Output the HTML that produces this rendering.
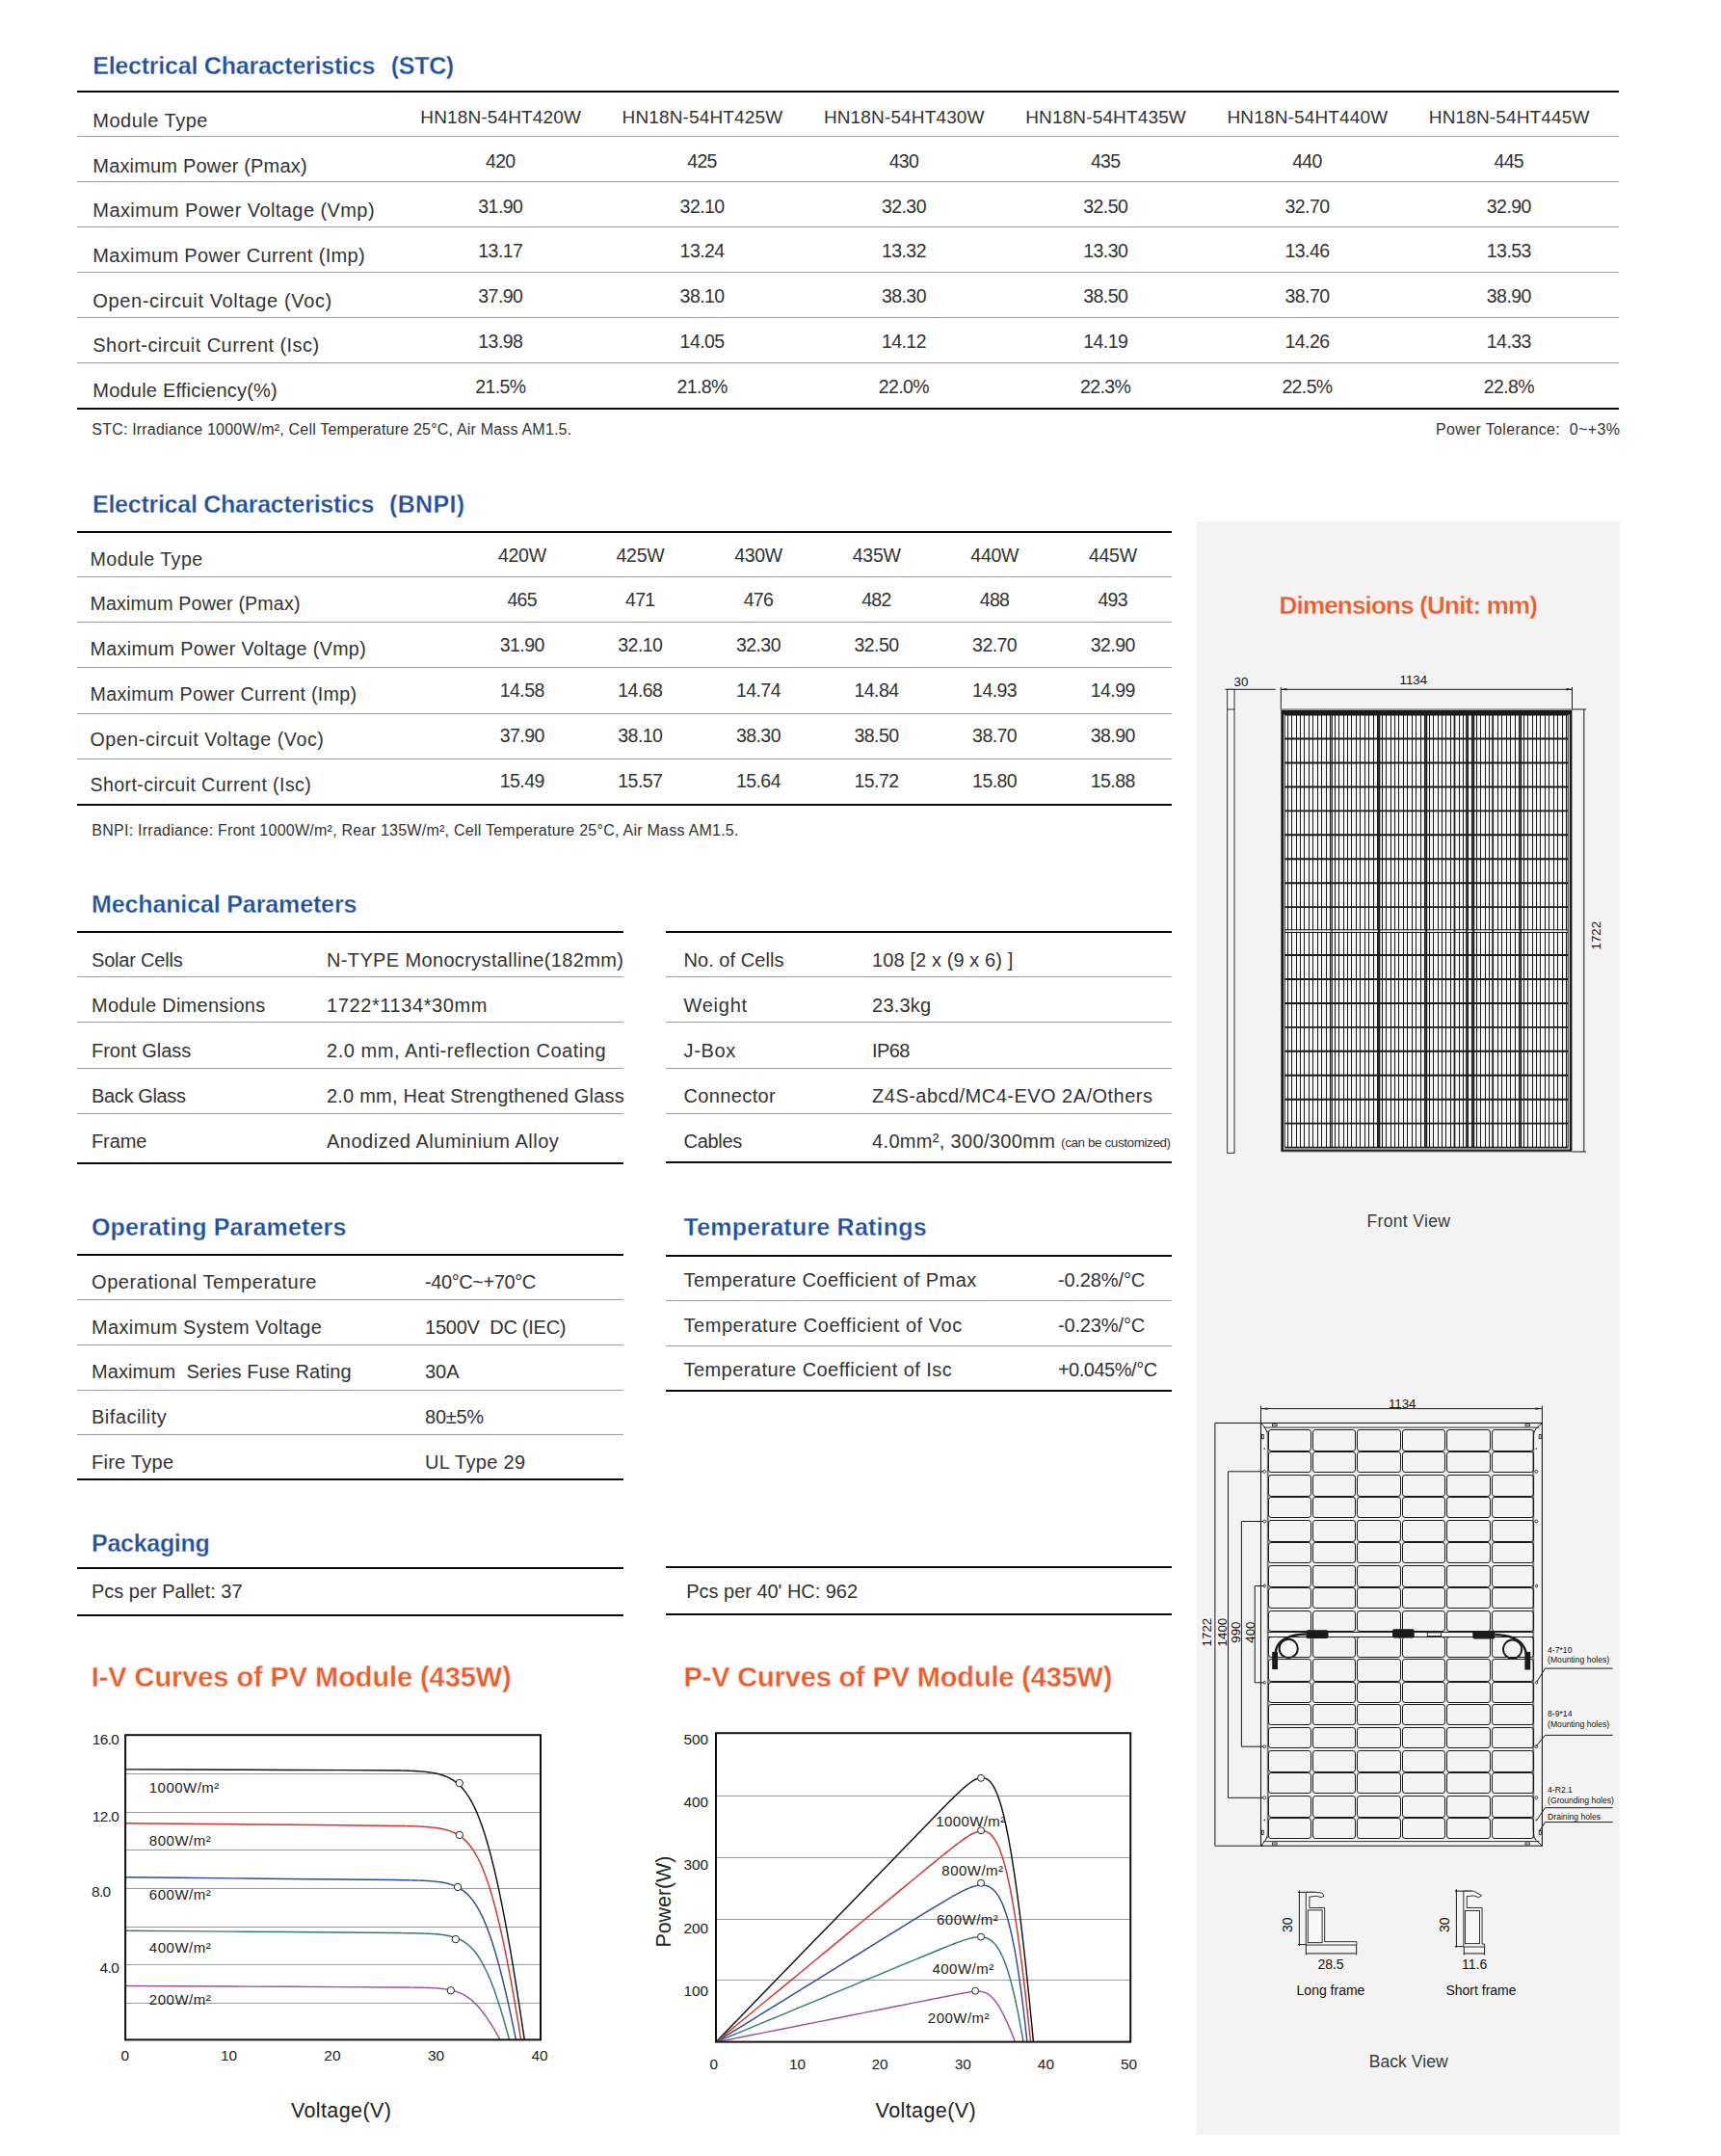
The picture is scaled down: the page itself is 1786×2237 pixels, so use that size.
<!DOCTYPE html>
<html><head><meta charset="utf-8"><title>Datasheet</title>
<style>
html,body{margin:0;padding:0;background:#fff;}
body{width:1786px;height:2237px;position:relative;overflow:hidden;font-family:"Liberation Sans",sans-serif;color:#333;}
.t{position:absolute;white-space:pre;line-height:1;}
.r{position:absolute;}
#panel{position:absolute;left:1242px;top:541px;width:439px;height:1674px;background:#f3f3f3;}
svg{position:absolute;left:0;top:0;}
svg text{font-family:"Liberation Sans",sans-serif;}
</style></head><body>
<div id="panel"></div>
<div class="t" style="left:96.20px;top:56.24px;font-size:25.00px;letter-spacing:-0.223px;font-weight:bold;-webkit-text-stroke:0.27px #fff;color:#1f50a2;">Electrical Characteristics</div>
<div class="t" style="left:405.80px;top:56.24px;font-size:25.00px;letter-spacing:-0.314px;font-weight:bold;-webkit-text-stroke:0.27px #fff;color:#1f50a2;">(STC)</div>
<div class="r" style="left:80.00px;top:94.00px;width:1599.50px;height:2.00px;background:#0a0a0a"></div>
<div class="r" style="left:80.00px;top:141.00px;width:1599.50px;height:1.00px;background:#9c9c9c"></div>
<div class="r" style="left:80.00px;top:188.00px;width:1599.50px;height:1.00px;background:#9c9c9c"></div>
<div class="r" style="left:80.00px;top:235.00px;width:1599.50px;height:1.00px;background:#9c9c9c"></div>
<div class="r" style="left:80.00px;top:282.00px;width:1599.50px;height:1.00px;background:#9c9c9c"></div>
<div class="r" style="left:80.00px;top:329.00px;width:1599.50px;height:1.00px;background:#9c9c9c"></div>
<div class="r" style="left:80.00px;top:376.00px;width:1599.50px;height:1.00px;background:#9c9c9c"></div>
<div class="r" style="left:80.00px;top:423.00px;width:1599.50px;height:2.00px;background:#0a0a0a"></div>
<div class="t" style="left:96.30px;top:115.07px;font-size:20.00px;letter-spacing:0.505px;">Module Type</div>
<div class="t" style="left:436.30px;top:111.62px;font-size:19.00px;letter-spacing:0.144px;">HN18N-54HT420W</div>
<div class="t" style="left:645.60px;top:111.62px;font-size:19.00px;letter-spacing:0.144px;">HN18N-54HT425W</div>
<div class="t" style="left:854.90px;top:111.62px;font-size:19.00px;letter-spacing:0.144px;">HN18N-54HT430W</div>
<div class="t" style="left:1064.20px;top:111.62px;font-size:19.00px;letter-spacing:0.144px;">HN18N-54HT435W</div>
<div class="t" style="left:1273.50px;top:111.62px;font-size:19.00px;letter-spacing:0.144px;">HN18N-54HT440W</div>
<div class="t" style="left:1482.80px;top:111.62px;font-size:19.00px;letter-spacing:0.144px;">HN18N-54HT445W</div>
<div class="t" style="left:96.30px;top:161.70px;font-size:20.00px;letter-spacing:0.178px;">Maximum Power (Pmax)</div>
<div class="t" style="left:504.06px;top:157.91px;font-size:19.50px;letter-spacing:-0.732px;">420</div>
<div class="t" style="left:713.36px;top:157.91px;font-size:19.50px;letter-spacing:-0.732px;">425</div>
<div class="t" style="left:922.66px;top:157.91px;font-size:19.50px;letter-spacing:-0.732px;">430</div>
<div class="t" style="left:1131.96px;top:157.91px;font-size:19.50px;letter-spacing:-0.732px;">435</div>
<div class="t" style="left:1341.26px;top:157.91px;font-size:19.50px;letter-spacing:-0.732px;">440</div>
<div class="t" style="left:1550.56px;top:157.91px;font-size:19.50px;letter-spacing:-0.732px;">445</div>
<div class="t" style="left:96.30px;top:208.33px;font-size:20.00px;letter-spacing:0.426px;">Maximum Power Voltage (Vmp)</div>
<div class="t" style="left:496.30px;top:204.63px;font-size:19.50px;letter-spacing:-0.549px;">31.90</div>
<div class="t" style="left:705.60px;top:204.63px;font-size:19.50px;letter-spacing:-0.549px;">32.10</div>
<div class="t" style="left:914.90px;top:204.63px;font-size:19.50px;letter-spacing:-0.549px;">32.30</div>
<div class="t" style="left:1124.20px;top:204.63px;font-size:19.50px;letter-spacing:-0.549px;">32.50</div>
<div class="t" style="left:1333.50px;top:204.63px;font-size:19.50px;letter-spacing:-0.549px;">32.70</div>
<div class="t" style="left:1542.80px;top:204.63px;font-size:19.50px;letter-spacing:-0.549px;">32.90</div>
<div class="t" style="left:96.30px;top:254.96px;font-size:20.00px;letter-spacing:0.347px;">Maximum Power Current (Imp)</div>
<div class="t" style="left:496.30px;top:251.35px;font-size:19.50px;letter-spacing:-0.549px;">13.17</div>
<div class="t" style="left:705.60px;top:251.35px;font-size:19.50px;letter-spacing:-0.549px;">13.24</div>
<div class="t" style="left:914.90px;top:251.35px;font-size:19.50px;letter-spacing:-0.549px;">13.32</div>
<div class="t" style="left:1124.20px;top:251.35px;font-size:19.50px;letter-spacing:-0.549px;">13.30</div>
<div class="t" style="left:1333.50px;top:251.35px;font-size:19.50px;letter-spacing:-0.549px;">13.46</div>
<div class="t" style="left:1542.80px;top:251.35px;font-size:19.50px;letter-spacing:-0.549px;">13.53</div>
<div class="t" style="left:96.30px;top:301.59px;font-size:20.00px;letter-spacing:0.622px;">Open-circuit Voltage (Voc)</div>
<div class="t" style="left:496.30px;top:298.07px;font-size:19.50px;letter-spacing:-0.549px;">37.90</div>
<div class="t" style="left:705.60px;top:298.07px;font-size:19.50px;letter-spacing:-0.549px;">38.10</div>
<div class="t" style="left:914.90px;top:298.07px;font-size:19.50px;letter-spacing:-0.549px;">38.30</div>
<div class="t" style="left:1124.20px;top:298.07px;font-size:19.50px;letter-spacing:-0.549px;">38.50</div>
<div class="t" style="left:1333.50px;top:298.07px;font-size:19.50px;letter-spacing:-0.549px;">38.70</div>
<div class="t" style="left:1542.80px;top:298.07px;font-size:19.50px;letter-spacing:-0.549px;">38.90</div>
<div class="t" style="left:96.30px;top:348.22px;font-size:20.00px;letter-spacing:0.439px;">Short-circuit Current (Isc)</div>
<div class="t" style="left:496.30px;top:344.79px;font-size:19.50px;letter-spacing:-0.549px;">13.98</div>
<div class="t" style="left:705.60px;top:344.79px;font-size:19.50px;letter-spacing:-0.549px;">14.05</div>
<div class="t" style="left:914.90px;top:344.79px;font-size:19.50px;letter-spacing:-0.549px;">14.12</div>
<div class="t" style="left:1124.20px;top:344.79px;font-size:19.50px;letter-spacing:-0.549px;">14.19</div>
<div class="t" style="left:1333.50px;top:344.79px;font-size:19.50px;letter-spacing:-0.549px;">14.26</div>
<div class="t" style="left:1542.80px;top:344.79px;font-size:19.50px;letter-spacing:-0.549px;">14.33</div>
<div class="t" style="left:96.30px;top:394.85px;font-size:20.00px;letter-spacing:0.206px;">Module Efficiency(%)</div>
<div class="t" style="left:493.20px;top:391.51px;font-size:19.50px;letter-spacing:-0.622px;">21.5%</div>
<div class="t" style="left:702.50px;top:391.51px;font-size:19.50px;letter-spacing:-0.622px;">21.8%</div>
<div class="t" style="left:911.80px;top:391.51px;font-size:19.50px;letter-spacing:-0.622px;">22.0%</div>
<div class="t" style="left:1121.10px;top:391.51px;font-size:19.50px;letter-spacing:-0.622px;">22.3%</div>
<div class="t" style="left:1330.40px;top:391.51px;font-size:19.50px;letter-spacing:-0.622px;">22.5%</div>
<div class="t" style="left:1539.70px;top:391.51px;font-size:19.50px;letter-spacing:-0.622px;">22.8%</div>
<div class="t" style="left:95.30px;top:438.46px;font-size:16.00px;letter-spacing:0.198px;">STC: Irradiance 1000W/m², Cell Temperature 25°C, Air Mass AM1.5.</div>
<div class="t" style="left:1490.00px;top:438.46px;font-size:16.00px;letter-spacing:0.362px;">Power Tolerance:  0~+3%</div>
<div class="t" style="left:96.00px;top:510.84px;font-size:25.00px;letter-spacing:-0.259px;font-weight:bold;-webkit-text-stroke:0.27px #fff;color:#1f50a2;">Electrical Characteristics</div>
<div class="t" style="left:404.00px;top:510.84px;font-size:25.00px;letter-spacing:0.323px;font-weight:bold;-webkit-text-stroke:0.27px #fff;color:#1f50a2;">(BNPI)</div>
<div class="r" style="left:80.00px;top:551.00px;width:1135.50px;height:2.00px;background:#0a0a0a"></div>
<div class="r" style="left:80.00px;top:598.00px;width:1135.50px;height:1.00px;background:#9c9c9c"></div>
<div class="r" style="left:80.00px;top:645.00px;width:1135.50px;height:1.00px;background:#9c9c9c"></div>
<div class="r" style="left:80.00px;top:692.00px;width:1135.50px;height:1.00px;background:#9c9c9c"></div>
<div class="r" style="left:80.00px;top:740.00px;width:1135.50px;height:1.00px;background:#9c9c9c"></div>
<div class="r" style="left:80.00px;top:787.00px;width:1135.50px;height:1.00px;background:#9c9c9c"></div>
<div class="r" style="left:80.00px;top:834.00px;width:1135.50px;height:2.00px;background:#0a0a0a"></div>
<div class="t" style="left:93.50px;top:570.51px;font-size:19.60px;letter-spacing:0.483px;">Module Type</div>
<div class="t" style="left:516.95px;top:566.99px;font-size:19.50px;letter-spacing:-0.278px;">420W</div>
<div class="t" style="left:639.55px;top:566.99px;font-size:19.50px;letter-spacing:-0.278px;">425W</div>
<div class="t" style="left:762.15px;top:566.99px;font-size:19.50px;letter-spacing:-0.278px;">430W</div>
<div class="t" style="left:884.75px;top:566.99px;font-size:19.50px;letter-spacing:-0.278px;">435W</div>
<div class="t" style="left:1007.35px;top:566.99px;font-size:19.50px;letter-spacing:-0.278px;">440W</div>
<div class="t" style="left:1129.95px;top:566.99px;font-size:19.50px;letter-spacing:-0.278px;">445W</div>
<div class="t" style="left:93.50px;top:617.41px;font-size:19.60px;letter-spacing:0.182px;">Maximum Power (Pmax)</div>
<div class="t" style="left:526.46px;top:612.99px;font-size:19.50px;letter-spacing:-0.732px;">465</div>
<div class="t" style="left:649.06px;top:612.99px;font-size:19.50px;letter-spacing:-0.732px;">471</div>
<div class="t" style="left:771.66px;top:612.99px;font-size:19.50px;letter-spacing:-0.732px;">476</div>
<div class="t" style="left:894.26px;top:612.99px;font-size:19.50px;letter-spacing:-0.732px;">482</div>
<div class="t" style="left:1016.86px;top:612.99px;font-size:19.50px;letter-spacing:-0.732px;">488</div>
<div class="t" style="left:1139.46px;top:612.99px;font-size:19.50px;letter-spacing:-0.732px;">493</div>
<div class="t" style="left:93.50px;top:664.31px;font-size:19.60px;letter-spacing:0.412px;">Maximum Power Voltage (Vmp)</div>
<div class="t" style="left:518.70px;top:659.89px;font-size:19.50px;letter-spacing:-0.549px;">31.90</div>
<div class="t" style="left:641.30px;top:659.89px;font-size:19.50px;letter-spacing:-0.549px;">32.10</div>
<div class="t" style="left:763.90px;top:659.89px;font-size:19.50px;letter-spacing:-0.549px;">32.30</div>
<div class="t" style="left:886.50px;top:659.89px;font-size:19.50px;letter-spacing:-0.549px;">32.50</div>
<div class="t" style="left:1009.10px;top:659.89px;font-size:19.50px;letter-spacing:-0.549px;">32.70</div>
<div class="t" style="left:1131.70px;top:659.89px;font-size:19.50px;letter-spacing:-0.549px;">32.90</div>
<div class="t" style="left:93.50px;top:711.21px;font-size:19.60px;letter-spacing:0.334px;">Maximum Power Current (Imp)</div>
<div class="t" style="left:518.70px;top:706.79px;font-size:19.50px;letter-spacing:-0.549px;">14.58</div>
<div class="t" style="left:641.30px;top:706.79px;font-size:19.50px;letter-spacing:-0.549px;">14.68</div>
<div class="t" style="left:763.90px;top:706.79px;font-size:19.50px;letter-spacing:-0.549px;">14.74</div>
<div class="t" style="left:886.50px;top:706.79px;font-size:19.50px;letter-spacing:-0.549px;">14.84</div>
<div class="t" style="left:1009.10px;top:706.79px;font-size:19.50px;letter-spacing:-0.549px;">14.93</div>
<div class="t" style="left:1131.70px;top:706.79px;font-size:19.50px;letter-spacing:-0.549px;">14.99</div>
<div class="t" style="left:93.50px;top:758.11px;font-size:19.60px;letter-spacing:0.588px;">Open-circuit Voltage (Voc)</div>
<div class="t" style="left:518.70px;top:753.69px;font-size:19.50px;letter-spacing:-0.549px;">37.90</div>
<div class="t" style="left:641.30px;top:753.69px;font-size:19.50px;letter-spacing:-0.549px;">38.10</div>
<div class="t" style="left:763.90px;top:753.69px;font-size:19.50px;letter-spacing:-0.549px;">38.30</div>
<div class="t" style="left:886.50px;top:753.69px;font-size:19.50px;letter-spacing:-0.549px;">38.50</div>
<div class="t" style="left:1009.10px;top:753.69px;font-size:19.50px;letter-spacing:-0.549px;">38.70</div>
<div class="t" style="left:1131.70px;top:753.69px;font-size:19.50px;letter-spacing:-0.549px;">38.90</div>
<div class="t" style="left:93.50px;top:805.01px;font-size:19.60px;letter-spacing:0.403px;">Short-circuit Current (Isc)</div>
<div class="t" style="left:518.70px;top:800.59px;font-size:19.50px;letter-spacing:-0.549px;">15.49</div>
<div class="t" style="left:641.30px;top:800.59px;font-size:19.50px;letter-spacing:-0.549px;">15.57</div>
<div class="t" style="left:763.90px;top:800.59px;font-size:19.50px;letter-spacing:-0.549px;">15.64</div>
<div class="t" style="left:886.50px;top:800.59px;font-size:19.50px;letter-spacing:-0.549px;">15.72</div>
<div class="t" style="left:1009.10px;top:800.59px;font-size:19.50px;letter-spacing:-0.549px;">15.80</div>
<div class="t" style="left:1131.70px;top:800.59px;font-size:19.50px;letter-spacing:-0.549px;">15.88</div>
<div class="t" style="left:95.30px;top:854.46px;font-size:16.00px;letter-spacing:0.250px;">BNPI: Irradiance: Front 1000W/m², Rear 135W/m², Cell Temperature 25°C, Air Mass AM1.5.</div>
<div class="t" style="left:95.00px;top:926.04px;font-size:25.00px;letter-spacing:-0.127px;font-weight:bold;-webkit-text-stroke:0.27px #fff;color:#1f50a2;">Mechanical Parameters</div>
<div class="r" style="left:80.00px;top:966.00px;width:567.00px;height:2.00px;background:#0a0a0a"></div>
<div class="r" style="left:691.00px;top:966.00px;width:524.50px;height:2.00px;background:#0a0a0a"></div>
<div class="r" style="left:80.00px;top:1013.00px;width:567.00px;height:1.00px;background:#9c9c9c"></div>
<div class="r" style="left:691.00px;top:1013.00px;width:524.50px;height:1.00px;background:#9c9c9c"></div>
<div class="r" style="left:80.00px;top:1060.00px;width:567.00px;height:1.00px;background:#9c9c9c"></div>
<div class="r" style="left:691.00px;top:1060.00px;width:524.50px;height:1.00px;background:#9c9c9c"></div>
<div class="r" style="left:80.00px;top:1108.00px;width:567.00px;height:1.00px;background:#9c9c9c"></div>
<div class="r" style="left:691.00px;top:1108.00px;width:524.50px;height:1.00px;background:#9c9c9c"></div>
<div class="r" style="left:80.00px;top:1155.00px;width:567.00px;height:1.00px;background:#9c9c9c"></div>
<div class="r" style="left:691.00px;top:1155.00px;width:524.50px;height:1.00px;background:#9c9c9c"></div>
<div class="r" style="left:80.00px;top:1205.50px;width:567.00px;height:2.00px;background:#0a0a0a"></div>
<div class="r" style="left:691.00px;top:1205.00px;width:524.50px;height:2.00px;background:#0a0a0a"></div>
<div class="t" style="left:95.00px;top:985.97px;font-size:20.00px;letter-spacing:-0.190px;">Solar Cells</div>
<div class="t" style="left:339.00px;top:985.97px;font-size:20.00px;letter-spacing:0.358px;">N-TYPE Monocrystalline(182mm)</div>
<div class="t" style="left:95.00px;top:1033.07px;font-size:20.00px;letter-spacing:0.285px;">Module Dimensions</div>
<div class="t" style="left:339.00px;top:1033.07px;font-size:20.00px;letter-spacing:0.597px;">1722*1134*30mm</div>
<div class="t" style="left:95.00px;top:1080.17px;font-size:20.00px;letter-spacing:-0.006px;">Front Glass</div>
<div class="t" style="left:339.00px;top:1080.17px;font-size:20.00px;letter-spacing:0.538px;">2.0 mm, Anti-reflection Coating</div>
<div class="t" style="left:95.00px;top:1127.27px;font-size:20.00px;letter-spacing:-0.349px;">Back Glass</div>
<div class="t" style="left:339.00px;top:1127.27px;font-size:20.00px;letter-spacing:0.211px;">2.0 mm, Heat Strengthened Glass</div>
<div class="t" style="left:95.00px;top:1174.37px;font-size:20.00px;letter-spacing:-0.121px;">Frame</div>
<div class="t" style="left:339.00px;top:1174.37px;font-size:20.00px;letter-spacing:0.512px;">Anodized Aluminium Alloy</div>
<div class="t" style="left:709.50px;top:986.07px;font-size:20.00px;letter-spacing:0.048px;">No. of Cells</div>
<div class="t" style="left:905.10px;top:986.07px;font-size:20.00px;letter-spacing:0.093px;">108 [2 x (9 x 6) ]</div>
<div class="t" style="left:709.50px;top:1033.17px;font-size:20.00px;letter-spacing:0.743px;">Weight</div>
<div class="t" style="left:905.10px;top:1033.17px;font-size:20.00px;letter-spacing:0.190px;">23.3kg</div>
<div class="t" style="left:709.50px;top:1080.27px;font-size:20.00px;letter-spacing:0.644px;">J-Box</div>
<div class="t" style="left:905.10px;top:1080.27px;font-size:20.00px;letter-spacing:-0.581px;">IP68</div>
<div class="t" style="left:709.50px;top:1127.37px;font-size:20.00px;letter-spacing:0.365px;">Connector</div>
<div class="t" style="left:905.10px;top:1127.37px;font-size:20.00px;letter-spacing:0.472px;">Z4S-abcd/MC4-EVO 2A/Others</div>
<div class="t" style="left:709.50px;top:1174.47px;font-size:20.00px;letter-spacing:-0.312px;">Cables</div>
<div class="t" style="left:905.10px;top:1174.47px;font-size:20.00px;letter-spacing:0.324px;">4.0mm², 300/300mm</div>
<div class="t" style="left:1101.10px;top:1179.37px;font-size:13.50px;letter-spacing:-0.420px;">(can be customized)</div>
<div class="t" style="left:95.00px;top:1261.04px;font-size:25.00px;letter-spacing:0.167px;font-weight:bold;-webkit-text-stroke:0.27px #fff;color:#1f50a2;">Operating Parameters</div>
<div class="t" style="left:709.50px;top:1261.34px;font-size:25.00px;letter-spacing:0.216px;font-weight:bold;-webkit-text-stroke:0.27px #fff;color:#1f50a2;">Temperature Ratings</div>
<div class="r" style="left:80.00px;top:1301.00px;width:567.00px;height:2.00px;background:#0a0a0a"></div>
<div class="r" style="left:691.00px;top:1302.00px;width:524.50px;height:2.00px;background:#0a0a0a"></div>
<div class="r" style="left:80.00px;top:1348.00px;width:567.00px;height:1.00px;background:#9c9c9c"></div>
<div class="r" style="left:80.00px;top:1395.00px;width:567.00px;height:1.00px;background:#9c9c9c"></div>
<div class="r" style="left:80.00px;top:1442.00px;width:567.00px;height:1.00px;background:#9c9c9c"></div>
<div class="r" style="left:80.00px;top:1488.00px;width:567.00px;height:1.00px;background:#9c9c9c"></div>
<div class="r" style="left:80.00px;top:1534.00px;width:567.00px;height:2.00px;background:#0a0a0a"></div>
<div class="r" style="left:691.00px;top:1349.00px;width:524.50px;height:1.00px;background:#9c9c9c"></div>
<div class="r" style="left:691.00px;top:1396.00px;width:524.50px;height:1.00px;background:#9c9c9c"></div>
<div class="r" style="left:691.00px;top:1442.00px;width:524.50px;height:2.00px;background:#0a0a0a"></div>
<div class="t" style="left:95.00px;top:1320.07px;font-size:20.00px;letter-spacing:0.574px;">Operational Temperature</div>
<div class="t" style="left:441.10px;top:1320.07px;font-size:20.00px;letter-spacing:-0.430px;">-40°C~+70°C</div>
<div class="t" style="left:95.00px;top:1366.77px;font-size:20.00px;letter-spacing:0.362px;">Maximum System Voltage</div>
<div class="t" style="left:441.10px;top:1366.77px;font-size:20.00px;letter-spacing:-0.261px;">1500V  DC (IEC)</div>
<div class="t" style="left:95.00px;top:1413.47px;font-size:20.00px;letter-spacing:0.070px;">Maximum  Series Fuse Rating</div>
<div class="t" style="left:441.10px;top:1413.47px;font-size:20.00px;letter-spacing:-0.094px;">30A</div>
<div class="t" style="left:95.00px;top:1460.17px;font-size:20.00px;letter-spacing:0.483px;">Bifacility</div>
<div class="t" style="left:441.10px;top:1460.17px;font-size:20.00px;letter-spacing:-0.282px;">80±5%</div>
<div class="t" style="left:95.00px;top:1506.87px;font-size:20.00px;letter-spacing:0.250px;">Fire Type</div>
<div class="t" style="left:441.10px;top:1506.87px;font-size:20.00px;letter-spacing:0.324px;">UL Type 29</div>
<div class="t" style="left:709.50px;top:1318.07px;font-size:20.00px;letter-spacing:0.427px;">Temperature Coefficient of Pmax</div>
<div class="t" style="left:1097.90px;top:1318.07px;font-size:20.00px;letter-spacing:-0.134px;">-0.28%/°C</div>
<div class="t" style="left:709.50px;top:1364.77px;font-size:20.00px;letter-spacing:0.537px;">Temperature Coefficient of Voc</div>
<div class="t" style="left:1097.90px;top:1364.77px;font-size:20.00px;letter-spacing:-0.134px;">-0.23%/°C</div>
<div class="t" style="left:709.50px;top:1411.47px;font-size:20.00px;letter-spacing:0.444px;">Temperature Coefficient of Isc</div>
<div class="t" style="left:1097.90px;top:1411.47px;font-size:20.00px;letter-spacing:-0.479px;">+0.045%/°C</div>
<div class="t" style="left:95.00px;top:1589.04px;font-size:25.00px;letter-spacing:-0.282px;font-weight:bold;-webkit-text-stroke:0.27px #fff;color:#1f50a2;">Packaging</div>
<div class="r" style="left:80.00px;top:1626.00px;width:567.00px;height:2.00px;background:#0a0a0a"></div>
<div class="r" style="left:691.00px;top:1625.00px;width:524.50px;height:2.00px;background:#0a0a0a"></div>
<div class="r" style="left:80.00px;top:1675.00px;width:567.00px;height:2.00px;background:#0a0a0a"></div>
<div class="r" style="left:691.00px;top:1674.00px;width:524.50px;height:2.00px;background:#0a0a0a"></div>
<div class="t" style="left:95.00px;top:1641.07px;font-size:20.00px;letter-spacing:-0.009px;">Pcs per Pallet: 37</div>
<div class="t" style="left:712.30px;top:1641.07px;font-size:20.00px;letter-spacing:-0.031px;">Pcs per 40' HC: 962</div>
<div class="t" style="left:94.80px;top:1726.05px;font-size:29.00px;letter-spacing:-0.083px;font-weight:bold;-webkit-text-stroke:0.32px #fff;color:#f15a29;">I-V Curves of PV Module (435W)</div>
<div class="t" style="left:709.50px;top:1726.05px;font-size:29.00px;letter-spacing:-0.158px;font-weight:bold;-webkit-text-stroke:0.32px #fff;color:#f15a29;">P-V Curves of PV Module (435W)</div>
<div class="t" style="left:1327.50px;top:615.39px;font-size:26.00px;letter-spacing:-0.803px;font-weight:bold;-webkit-text-stroke:0.29px #f3f3f3;color:#f15a29;">Dimensions (Unit: mm)</div>
<div class="t" style="left:1418.45px;top:1258.79px;font-size:17.50px;letter-spacing:0.353px;color:#3a3a3a;">Front View</div>
<div class="t" style="left:1420.70px;top:2130.99px;font-size:17.50px;letter-spacing:0.077px;color:#3a3a3a;">Back View</div>
<svg width="1786" height="2237" viewBox="0 0 1786 2237">
<line x1="130.10" y1="1840.50" x2="561.00" y2="1840.50" stroke="#9a9a9a" stroke-width="1"/>
<line x1="130.10" y1="1880.50" x2="561.00" y2="1880.50" stroke="#9a9a9a" stroke-width="1"/>
<line x1="130.10" y1="1919.50" x2="561.00" y2="1919.50" stroke="#9a9a9a" stroke-width="1"/>
<line x1="130.10" y1="1959.50" x2="561.00" y2="1959.50" stroke="#9a9a9a" stroke-width="1"/>
<line x1="130.10" y1="1999.50" x2="561.00" y2="1999.50" stroke="#9a9a9a" stroke-width="1"/>
<line x1="130.10" y1="2038.50" x2="561.00" y2="2038.50" stroke="#9a9a9a" stroke-width="1"/>
<line x1="130.10" y1="2078.50" x2="561.00" y2="2078.50" stroke="#9a9a9a" stroke-width="1"/>
<clipPath id="civ"><rect x="130.10" y="1800.20" width="430.90" height="316.20"/></clipPath>
<g clip-path="url(#civ)" fill="none" stroke-width="1.45">
<path d="M130.10 1835.87 L186.12 1836.06 L242.13 1836.24 L298.15 1836.43 L354.17 1836.62 L410.19 1836.98 L415.57 1837.08 L417.08 1837.11 L418.60 1837.15 L420.11 1837.19 L421.62 1837.23 L423.13 1837.28 L424.64 1837.33 L426.16 1837.39 L427.67 1837.45 L429.18 1837.52 L430.69 1837.59 L432.21 1837.68 L433.72 1837.77 L435.23 1837.87 L436.74 1837.98 L438.25 1838.10 L439.77 1838.24 L441.28 1838.39 L442.79 1838.55 L444.30 1838.73 L445.81 1838.93 L447.33 1839.15 L448.84 1839.39 L450.35 1839.66 L451.86 1839.95 L453.38 1840.28 L454.89 1840.64 L456.40 1841.03 L457.91 1841.47 L459.42 1841.95 L460.94 1842.47 L462.45 1843.05 L463.96 1843.69 L465.47 1844.39 L466.99 1845.16 L468.50 1846.01 L470.01 1846.93 L471.52 1847.94 L473.03 1849.05 L474.55 1850.26 L476.06 1851.58 L477.57 1853.02 L479.08 1854.59 L480.59 1856.29 L482.11 1858.13 L483.62 1860.13 L485.13 1862.29 L486.64 1864.62 L488.16 1867.14 L489.67 1869.84 L491.18 1872.73 L492.69 1875.83 L494.20 1879.15 L495.72 1882.68 L497.23 1886.43 L498.74 1890.42 L500.25 1894.64 L501.76 1899.10 L503.28 1903.80 L504.79 1908.74 L506.30 1913.93 L507.81 1919.36 L509.33 1925.04 L510.84 1930.96 L512.35 1937.13 L513.86 1943.54 L515.37 1950.18 L516.89 1957.06 L518.40 1964.16 L519.91 1971.50 L521.42 1979.05 L522.94 1986.82 L524.45 1994.80 L525.96 2002.99 L527.47 2011.38 L528.98 2019.96 L530.50 2028.74 L532.01 2037.69 L533.52 2046.83 L535.03 2056.14 L536.54 2065.61 L538.06 2075.25 L539.57 2085.04 L541.08 2094.99 L542.59 2105.08 L544.11 2115.32 L545.62 2125.69 L547.13 2136.19" stroke="#111111"/>
<path d="M130.10 1891.81 L186.12 1892.32 L242.13 1892.82 L298.15 1893.32 L354.17 1893.83 L410.19 1894.42 L415.57 1894.51 L417.04 1894.53 L418.52 1894.56 L419.99 1894.59 L421.46 1894.63 L422.94 1894.66 L424.41 1894.70 L425.88 1894.74 L427.36 1894.78 L428.83 1894.83 L430.30 1894.88 L431.78 1894.94 L433.25 1894.99 L434.72 1895.06 L436.20 1895.13 L437.67 1895.20 L439.14 1895.29 L440.62 1895.38 L442.09 1895.48 L443.56 1895.59 L445.03 1895.71 L446.51 1895.84 L447.98 1895.98 L449.45 1896.14 L450.93 1896.31 L452.40 1896.50 L453.87 1896.72 L455.35 1896.95 L456.82 1897.20 L458.29 1897.49 L459.77 1897.80 L461.24 1898.14 L462.71 1898.52 L464.19 1898.93 L465.66 1899.39 L467.13 1899.89 L468.61 1900.45 L470.08 1901.06 L471.55 1901.73 L473.03 1902.47 L474.50 1903.28 L475.97 1904.17 L477.44 1905.15 L478.92 1906.22 L480.39 1907.39 L481.86 1908.66 L483.34 1910.06 L484.81 1911.58 L486.28 1913.23 L487.76 1915.02 L489.23 1916.97 L490.70 1919.08 L492.18 1921.35 L493.65 1923.80 L495.12 1926.44 L496.60 1929.28 L498.07 1932.31 L499.54 1935.55 L501.02 1939.01 L502.49 1942.69 L503.96 1946.60 L505.44 1950.74 L506.91 1955.11 L508.38 1959.71 L509.85 1964.56 L511.33 1969.64 L512.80 1974.97 L514.27 1980.53 L515.75 1986.33 L517.22 1992.36 L518.69 1998.62 L520.17 2005.12 L521.64 2011.84 L523.11 2018.78 L524.59 2025.94 L526.06 2033.30 L527.53 2040.88 L529.01 2048.66 L530.48 2056.63 L531.95 2064.79 L533.43 2073.14 L534.90 2081.67 L536.37 2090.37 L537.85 2099.24 L539.32 2108.27 L540.79 2117.46 L542.26 2126.80 L543.74 2136.29" stroke="#d8312c"/>
<path d="M130.10 1947.74 L186.12 1948.30 L242.13 1948.86 L298.15 1949.42 L354.17 1949.98 L410.19 1950.59 L415.57 1950.67 L416.99 1950.70 L418.41 1950.72 L419.83 1950.75 L421.25 1950.77 L422.67 1950.80 L424.09 1950.83 L425.51 1950.86 L426.93 1950.89 L428.35 1950.93 L429.77 1950.97 L431.19 1951.01 L432.61 1951.05 L434.03 1951.10 L435.45 1951.15 L436.87 1951.20 L438.29 1951.26 L439.71 1951.33 L441.13 1951.40 L442.55 1951.48 L443.97 1951.56 L445.39 1951.65 L446.81 1951.75 L448.23 1951.86 L449.65 1951.98 L451.07 1952.12 L452.49 1952.26 L453.91 1952.43 L455.33 1952.60 L456.75 1952.80 L458.17 1953.02 L459.59 1953.26 L461.01 1953.52 L462.43 1953.81 L463.85 1954.14 L465.27 1954.49 L466.69 1954.89 L468.11 1955.32 L469.53 1955.80 L470.95 1956.32 L472.37 1956.90 L473.79 1957.54 L475.21 1958.25 L476.63 1959.02 L478.05 1959.87 L479.47 1960.80 L480.89 1961.81 L482.31 1962.92 L483.73 1964.14 L485.15 1965.46 L486.57 1966.90 L487.99 1968.46 L489.41 1970.15 L490.83 1971.98 L492.25 1973.96 L493.67 1976.08 L495.09 1978.37 L496.51 1980.81 L497.93 1983.43 L499.35 1986.21 L500.77 1989.18 L502.19 1992.32 L503.61 1995.65 L505.03 1999.17 L506.45 2002.87 L507.87 2006.76 L509.29 2010.83 L510.71 2015.09 L512.13 2019.54 L513.55 2024.17 L514.97 2028.98 L516.39 2033.97 L517.81 2039.14 L519.23 2044.48 L520.65 2049.98 L522.07 2055.65 L523.49 2061.48 L524.91 2067.47 L526.33 2073.60 L527.75 2079.89 L529.17 2086.31 L530.59 2092.87 L532.01 2099.57 L533.43 2106.39 L534.85 2113.34 L536.27 2120.40 L537.69 2127.59 L539.11 2134.88" stroke="#2c4b9c"/>
<path d="M130.10 2003.18 L186.12 2003.64 L242.13 2004.11 L298.15 2004.57 L354.17 2005.03 L410.19 2005.53 L415.57 2005.59 L416.92 2005.61 L418.26 2005.62 L419.60 2005.64 L420.95 2005.66 L422.29 2005.68 L423.63 2005.70 L424.98 2005.72 L426.32 2005.74 L427.67 2005.77 L429.01 2005.79 L430.35 2005.82 L431.70 2005.85 L433.04 2005.88 L434.38 2005.91 L435.73 2005.95 L437.07 2005.99 L438.42 2006.03 L439.76 2006.08 L441.10 2006.13 L442.45 2006.18 L443.79 2006.24 L445.14 2006.30 L446.48 2006.37 L447.82 2006.45 L449.17 2006.53 L450.51 2006.62 L451.85 2006.72 L453.20 2006.83 L454.54 2006.95 L455.89 2007.08 L457.23 2007.23 L458.57 2007.39 L459.92 2007.57 L461.26 2007.77 L462.60 2007.98 L463.95 2008.22 L465.29 2008.49 L466.64 2008.78 L467.98 2009.10 L469.32 2009.45 L470.67 2009.84 L472.01 2010.27 L473.35 2010.74 L474.70 2011.25 L476.04 2011.82 L477.39 2012.44 L478.73 2013.12 L480.07 2013.87 L481.42 2014.68 L482.76 2015.57 L484.11 2016.54 L485.45 2017.59 L486.79 2018.74 L488.14 2019.98 L489.48 2021.32 L490.82 2022.76 L492.17 2024.32 L493.51 2026.00 L494.86 2027.79 L496.20 2029.71 L497.54 2031.76 L498.89 2033.93 L500.23 2036.25 L501.57 2038.70 L502.92 2041.29 L504.26 2044.02 L505.61 2046.89 L506.95 2049.90 L508.29 2053.05 L509.64 2056.34 L510.98 2059.77 L512.33 2063.34 L513.67 2067.05 L515.01 2070.89 L516.36 2074.86 L517.70 2078.96 L519.04 2083.18 L520.39 2087.53 L521.73 2092.00 L523.08 2096.58 L524.42 2101.28 L525.76 2106.09 L527.11 2111.00 L528.45 2116.02 L529.79 2121.13 L531.14 2126.35 L532.48 2131.65 L533.83 2137.05" stroke="#2b7b74"/>
<path d="M130.10 2060.43 L186.12 2060.73 L242.13 2061.04 L298.15 2061.34 L354.17 2061.64 L410.19 2061.96 L415.57 2062.00 L416.81 2062.01 L418.04 2062.02 L419.27 2062.03 L420.51 2062.04 L421.74 2062.06 L422.97 2062.07 L424.21 2062.08 L425.44 2062.09 L426.68 2062.11 L427.91 2062.12 L429.14 2062.14 L430.38 2062.16 L431.61 2062.17 L432.85 2062.19 L434.08 2062.21 L435.31 2062.24 L436.55 2062.26 L437.78 2062.29 L439.02 2062.32 L440.25 2062.35 L441.48 2062.38 L442.72 2062.42 L443.95 2062.46 L445.19 2062.51 L446.42 2062.56 L447.65 2062.61 L448.89 2062.67 L450.12 2062.74 L451.36 2062.81 L452.59 2062.89 L453.82 2062.97 L455.06 2063.07 L456.29 2063.18 L457.52 2063.29 L458.76 2063.42 L459.99 2063.56 L461.23 2063.72 L462.46 2063.89 L463.69 2064.08 L464.93 2064.29 L466.16 2064.52 L467.40 2064.77 L468.63 2065.04 L469.86 2065.35 L471.10 2065.68 L472.33 2066.04 L473.57 2066.43 L474.80 2066.86 L476.03 2067.33 L477.27 2067.84 L478.50 2068.39 L479.74 2068.98 L480.97 2069.62 L482.20 2070.31 L483.44 2071.05 L484.67 2071.84 L485.91 2072.69 L487.14 2073.59 L488.37 2074.55 L489.61 2075.57 L490.84 2076.65 L492.07 2077.79 L493.31 2078.98 L494.54 2080.24 L495.78 2081.56 L497.01 2082.94 L498.24 2084.37 L499.48 2085.87 L500.71 2087.43 L501.95 2089.04 L503.18 2090.71 L504.41 2092.43 L505.65 2094.21 L506.88 2096.04 L508.12 2097.92 L509.35 2099.85 L510.58 2101.83 L511.82 2103.86 L513.05 2105.93 L514.29 2108.04 L515.52 2110.20 L516.75 2112.40 L517.99 2114.64 L519.22 2116.92 L520.46 2119.23 L521.69 2121.58 L522.92 2123.96 L524.16 2126.38 L525.39 2128.83" stroke="#9b50a1"/>
</g>
<rect x="130.10" y="1800.20" width="430.90" height="316.20" fill="none" stroke="#111" stroke-width="2"/>
<circle cx="476.81" cy="1850.09" r="3.7" fill="#fff" stroke="#222" stroke-width="1"/>
<circle cx="476.81" cy="1903.88" r="3.7" fill="#fff" stroke="#222" stroke-width="1"/>
<circle cx="475.08" cy="1957.98" r="3.7" fill="#fff" stroke="#222" stroke-width="1"/>
<circle cx="472.87" cy="2012.08" r="3.7" fill="#fff" stroke="#222" stroke-width="1"/>
<circle cx="467.82" cy="2065.24" r="3.7" fill="#fff" stroke="#222" stroke-width="1"/>
<text x="154.80" y="1859.70" font-size="15.00" fill="#222" textLength="72.50" lengthAdjust="spacing">1000W/m²</text>
<text x="154.80" y="1915.00" font-size="15.00" fill="#222" textLength="64.00" lengthAdjust="spacing">800W/m²</text>
<text x="154.80" y="1971.00" font-size="15.00" fill="#222" textLength="64.00" lengthAdjust="spacing">600W/m²</text>
<text x="154.80" y="2025.50" font-size="15.00" fill="#222" textLength="64.00" lengthAdjust="spacing">400W/m²</text>
<text x="154.80" y="2080.00" font-size="15.00" fill="#222" textLength="64.00" lengthAdjust="spacing">200W/m²</text>
<text x="95.70" y="1810.20" font-size="15.40" fill="#222" textLength="28.20" lengthAdjust="spacing">16.0</text>
<text x="95.70" y="1889.80" font-size="15.40" fill="#222" textLength="28.20" lengthAdjust="spacing">12.0</text>
<text x="95.10" y="1968.20" font-size="15.40" fill="#222" textLength="20.00" lengthAdjust="spacing">8.0</text>
<text x="103.50" y="2046.90" font-size="15.40" fill="#222" textLength="20.40" lengthAdjust="spacing">4.0</text>
<text x="129.70" y="2138.00" font-size="15.40" fill="#222" text-anchor="middle">0</text>
<text x="237.50" y="2138.00" font-size="15.40" fill="#222" text-anchor="middle">10</text>
<text x="344.90" y="2138.00" font-size="15.40" fill="#222" text-anchor="middle">20</text>
<text x="452.60" y="2138.00" font-size="15.40" fill="#222" text-anchor="middle">30</text>
<text x="560.00" y="2138.00" font-size="15.40" fill="#222" text-anchor="middle">40</text>
<text x="353.90" y="2196.50" font-size="21.50" fill="#222" textLength="104.00" lengthAdjust="spacing" text-anchor="middle">Voltage(V)</text>
<line x1="743.00" y1="1863.50" x2="1173.20" y2="1863.50" stroke="#9a9a9a" stroke-width="1"/>
<line x1="743.00" y1="1927.50" x2="1173.20" y2="1927.50" stroke="#9a9a9a" stroke-width="1"/>
<line x1="743.00" y1="1991.50" x2="1173.20" y2="1991.50" stroke="#9a9a9a" stroke-width="1"/>
<line x1="743.00" y1="2054.50" x2="1173.20" y2="2054.50" stroke="#9a9a9a" stroke-width="1"/>
<clipPath id="cpv"><rect x="743.00" y="1798.20" width="430.20" height="320.40"/></clipPath>
<g clip-path="url(#cpv)" fill="none" stroke-width="1.45" stroke-linejoin="round">
<path d="M742.97 2118.83 L760.18 2101.09 L777.38 2083.34 L794.59 2065.60 L811.80 2047.86 L829.00 2030.11 L846.21 2012.37 L863.42 1994.63 L880.63 1976.88 L897.83 1959.14 L915.04 1941.40 L932.25 1923.66 L949.45 1905.92 L966.66 1888.21 L970.96 1883.80 L972.30 1882.43 L973.64 1881.06 L974.98 1879.69 L976.32 1878.32 L977.66 1876.96 L979.00 1875.60 L980.33 1874.24 L981.67 1872.89 L983.01 1871.54 L984.35 1870.20 L985.69 1868.86 L987.03 1867.53 L988.37 1866.20 L989.71 1864.88 L991.04 1863.58 L992.38 1862.28 L993.72 1861.00 L995.06 1859.73 L996.40 1858.48 L997.74 1857.25 L999.08 1856.05 L1000.42 1854.86 L1001.75 1853.71 L1003.09 1852.60 L1004.43 1851.52 L1005.77 1850.49 L1007.11 1849.50 L1008.45 1848.58 L1009.79 1847.73 L1011.13 1846.94 L1012.47 1846.25 L1013.80 1845.65 L1015.14 1845.16 L1016.48 1844.80 L1017.82 1844.57 L1019.16 1844.49 L1020.50 1844.59 L1021.84 1844.87 L1023.18 1845.37 L1024.51 1846.09 L1025.85 1847.06 L1027.19 1848.30 L1028.53 1849.83 L1029.87 1851.67 L1031.21 1853.85 L1032.55 1856.37 L1033.89 1859.27 L1035.22 1862.54 L1036.56 1866.22 L1037.90 1870.31 L1039.24 1874.83 L1040.58 1879.77 L1041.92 1885.15 L1043.26 1890.97 L1044.60 1897.23 L1045.94 1903.93 L1047.27 1911.07 L1048.61 1918.64 L1049.95 1926.65 L1051.29 1935.09 L1052.63 1943.94 L1053.97 1953.20 L1055.31 1962.87 L1056.65 1972.94 L1057.98 1983.39 L1059.32 1994.22 L1060.66 2005.42 L1062.00 2016.99 L1063.34 2028.91 L1064.68 2041.17 L1066.02 2053.77 L1067.36 2066.71 L1068.69 2079.97 L1070.03 2093.54 L1071.37 2107.42 L1072.71 2121.61 L1074.05 2136.09" stroke="#111111"/>
<path d="M742.97 2118.83 L760.18 2104.65 L777.38 2090.48 L794.59 2076.30 L811.80 2062.13 L829.00 2047.95 L846.21 2033.77 L863.42 2019.60 L880.63 2005.42 L897.83 1991.25 L915.04 1977.07 L932.25 1962.90 L949.45 1948.73 L966.66 1934.59 L970.96 1931.07 L972.26 1930.01 L973.56 1928.95 L974.86 1927.89 L976.16 1926.83 L977.46 1925.78 L978.76 1924.73 L980.06 1923.68 L981.36 1922.63 L982.65 1921.59 L983.95 1920.55 L985.25 1919.52 L986.55 1918.49 L987.85 1917.46 L989.15 1916.45 L990.45 1915.44 L991.75 1914.43 L993.05 1913.44 L994.35 1912.46 L995.64 1911.49 L996.94 1910.54 L998.24 1909.60 L999.54 1908.68 L1000.84 1907.78 L1002.14 1906.91 L1003.44 1906.06 L1004.74 1905.24 L1006.04 1904.45 L1007.34 1903.71 L1008.64 1903.00 L1009.93 1902.35 L1011.23 1901.75 L1012.53 1901.22 L1013.83 1900.75 L1015.13 1900.37 L1016.43 1900.07 L1017.73 1899.87 L1019.03 1899.78 L1020.33 1899.82 L1021.63 1899.98 L1022.93 1900.30 L1024.22 1900.78 L1025.52 1901.44 L1026.82 1902.30 L1028.12 1903.37 L1029.42 1904.67 L1030.72 1906.22 L1032.02 1908.04 L1033.32 1910.14 L1034.62 1912.54 L1035.92 1915.26 L1037.22 1918.32 L1038.51 1921.72 L1039.81 1925.48 L1041.11 1929.62 L1042.41 1934.14 L1043.71 1939.05 L1045.01 1944.36 L1046.31 1950.08 L1047.61 1956.20 L1048.91 1962.74 L1050.21 1969.68 L1051.51 1977.03 L1052.80 1984.79 L1054.10 1992.95 L1055.40 2001.51 L1056.70 2010.46 L1058.00 2019.81 L1059.30 2029.53 L1060.60 2039.64 L1061.90 2050.11 L1063.20 2060.95 L1064.50 2072.14 L1065.80 2083.68 L1067.09 2095.56 L1068.39 2107.78 L1069.69 2120.33 L1070.99 2133.20" stroke="#d8312c"/>
<path d="M742.97 2118.83 L760.18 2108.19 L777.38 2097.56 L794.59 2086.92 L811.80 2076.28 L829.00 2065.65 L846.21 2055.01 L863.42 2044.37 L880.63 2033.74 L897.83 2023.10 L915.04 2012.47 L932.25 2001.83 L949.45 1991.21 L966.66 1980.66 L970.96 1978.04 L972.22 1977.28 L973.47 1976.53 L974.72 1975.77 L975.98 1975.02 L977.23 1974.27 L978.49 1973.52 L979.74 1972.77 L980.99 1972.03 L982.25 1971.29 L983.50 1970.56 L984.76 1969.83 L986.01 1969.11 L987.27 1968.39 L988.52 1967.68 L989.77 1966.97 L991.03 1966.27 L992.28 1965.58 L993.54 1964.90 L994.79 1964.23 L996.04 1963.57 L997.30 1962.93 L998.55 1962.30 L999.81 1961.68 L1001.06 1961.08 L1002.31 1960.50 L1003.57 1959.94 L1004.82 1959.41 L1006.08 1958.90 L1007.33 1958.42 L1008.58 1957.97 L1009.84 1957.56 L1011.09 1957.18 L1012.35 1956.85 L1013.60 1956.56 L1014.85 1956.32 L1016.11 1956.14 L1017.36 1956.03 L1018.62 1955.98 L1019.87 1956.01 L1021.13 1956.11 L1022.38 1956.31 L1023.63 1956.61 L1024.89 1957.02 L1026.14 1957.54 L1027.40 1958.20 L1028.65 1958.99 L1029.90 1959.93 L1031.16 1961.04 L1032.41 1962.33 L1033.67 1963.81 L1034.92 1965.50 L1036.17 1967.41 L1037.43 1969.56 L1038.68 1971.97 L1039.94 1974.65 L1041.19 1977.62 L1042.44 1980.90 L1043.70 1984.50 L1044.95 1988.45 L1046.21 1992.76 L1047.46 1997.45 L1048.71 2002.53 L1049.97 2008.03 L1051.22 2013.95 L1052.48 2020.32 L1053.73 2027.13 L1054.98 2034.42 L1056.24 2042.18 L1057.49 2050.43 L1058.75 2059.18 L1060.00 2068.44 L1061.26 2078.20 L1062.51 2088.48 L1063.76 2099.28 L1065.02 2110.60 L1066.27 2122.44 L1067.53 2134.80" stroke="#2c4b9c"/>
<path d="M742.97 2118.83 L760.18 2111.70 L777.38 2104.58 L794.59 2097.45 L811.80 2090.33 L829.00 2083.20 L846.21 2076.07 L863.42 2068.95 L880.63 2061.82 L897.83 2054.70 L915.04 2047.57 L932.25 2040.45 L949.45 2033.33 L966.66 2026.22 L970.96 2024.46 L972.17 2023.96 L973.38 2023.47 L974.58 2022.98 L975.79 2022.49 L976.99 2022.00 L978.20 2021.51 L979.41 2021.02 L980.61 2020.53 L981.82 2020.05 L983.03 2019.57 L984.23 2019.09 L985.44 2018.61 L986.65 2018.14 L987.85 2017.66 L989.06 2017.20 L990.26 2016.73 L991.47 2016.27 L992.68 2015.82 L993.88 2015.37 L995.09 2014.93 L996.30 2014.49 L997.50 2014.07 L998.71 2013.65 L999.92 2013.24 L1001.12 2012.85 L1002.33 2012.47 L1003.54 2012.10 L1004.74 2011.75 L1005.95 2011.42 L1007.15 2011.10 L1008.36 2010.82 L1009.57 2010.56 L1010.77 2010.32 L1011.98 2010.12 L1013.19 2009.96 L1014.39 2009.84 L1015.60 2009.76 L1016.81 2009.74 L1018.01 2009.76 L1019.22 2009.85 L1020.43 2010.01 L1021.63 2010.25 L1022.84 2010.56 L1024.04 2010.97 L1025.25 2011.48 L1026.46 2012.09 L1027.66 2012.82 L1028.87 2013.68 L1030.08 2014.67 L1031.28 2015.82 L1032.49 2017.12 L1033.70 2018.58 L1034.90 2020.23 L1036.11 2022.07 L1037.31 2024.10 L1038.52 2026.34 L1039.73 2028.80 L1040.93 2031.48 L1042.14 2034.40 L1043.35 2037.55 L1044.55 2040.95 L1045.76 2044.60 L1046.97 2048.51 L1048.17 2052.67 L1049.38 2057.09 L1050.59 2061.77 L1051.79 2066.71 L1053.00 2071.91 L1054.20 2077.37 L1055.41 2083.09 L1056.62 2089.07 L1057.82 2095.30 L1059.03 2101.78 L1060.24 2108.51 L1061.44 2115.49 L1062.65 2122.70 L1063.86 2130.15 L1065.06 2137.83" stroke="#2b7b74"/>
<path d="M742.97 2118.83 L760.18 2115.42 L777.38 2112.01 L794.59 2108.60 L811.80 2105.19 L829.00 2101.78 L846.21 2098.37 L863.42 2094.96 L880.63 2091.55 L897.83 2088.13 L915.04 2084.72 L932.25 2081.31 L949.45 2077.90 L966.66 2074.49 L970.96 2073.64 L972.06 2073.42 L973.16 2073.20 L974.26 2072.99 L975.36 2072.77 L976.46 2072.55 L977.57 2072.33 L978.67 2072.12 L979.77 2071.90 L980.87 2071.68 L981.97 2071.46 L983.07 2071.25 L984.17 2071.03 L985.27 2070.81 L986.37 2070.59 L987.47 2070.38 L988.57 2070.16 L989.67 2069.95 L990.77 2069.73 L991.87 2069.52 L992.97 2069.31 L994.07 2069.09 L995.17 2068.88 L996.27 2068.67 L997.37 2068.47 L998.47 2068.26 L999.58 2068.06 L1000.68 2067.86 L1001.78 2067.66 L1002.88 2067.47 L1003.98 2067.29 L1005.08 2067.11 L1006.18 2066.94 L1007.28 2066.79 L1008.38 2066.64 L1009.48 2066.51 L1010.58 2066.40 L1011.68 2066.31 L1012.78 2066.24 L1013.88 2066.20 L1014.98 2066.20 L1016.08 2066.24 L1017.18 2066.32 L1018.28 2066.45 L1019.38 2066.65 L1020.48 2066.91 L1021.59 2067.25 L1022.69 2067.67 L1023.79 2068.18 L1024.89 2068.78 L1025.99 2069.48 L1027.09 2070.29 L1028.19 2071.20 L1029.29 2072.22 L1030.39 2073.36 L1031.49 2074.60 L1032.59 2075.96 L1033.69 2077.42 L1034.79 2078.99 L1035.89 2080.66 L1036.99 2082.43 L1038.09 2084.29 L1039.19 2086.25 L1040.29 2088.30 L1041.39 2090.43 L1042.49 2092.65 L1043.59 2094.94 L1044.70 2097.32 L1045.80 2099.76 L1046.90 2102.27 L1048.00 2104.86 L1049.10 2107.50 L1050.20 2110.21 L1051.30 2112.98 L1052.40 2115.81 L1053.50 2118.70 L1054.60 2121.64 L1055.70 2124.63 L1056.80 2127.68 L1057.90 2130.77" stroke="#9b50a1"/>
</g>
<rect x="743.00" y="1798.20" width="430.20" height="320.40" fill="none" stroke="#111" stroke-width="2"/>
<circle cx="1018.04" cy="1844.80" r="3.5" fill="#fff" stroke="#222" stroke-width="1"/>
<circle cx="1018.04" cy="1899.19" r="3.5" fill="#fff" stroke="#222" stroke-width="1"/>
<circle cx="1018.04" cy="1953.79" r="3.5" fill="#fff" stroke="#222" stroke-width="1"/>
<circle cx="1018.04" cy="2009.64" r="3.5" fill="#fff" stroke="#222" stroke-width="1"/>
<circle cx="1012.18" cy="2065.70" r="3.5" fill="#fff" stroke="#222" stroke-width="1"/>
<text x="971.20" y="1894.60" font-size="15.00" fill="#222" textLength="72.00" lengthAdjust="spacing">1000W/m²</text>
<text x="977.30" y="1945.80" font-size="15.00" fill="#222" textLength="63.80" lengthAdjust="spacing">800W/m²</text>
<text x="972.00" y="1997.10" font-size="15.00" fill="#222" textLength="63.80" lengthAdjust="spacing">600W/m²</text>
<text x="967.40" y="2047.70" font-size="15.00" fill="#222" textLength="63.80" lengthAdjust="spacing">400W/m²</text>
<text x="962.80" y="2099.00" font-size="15.00" fill="#222" textLength="63.80" lengthAdjust="spacing">200W/m²</text>
<text x="709.50" y="1810.30" font-size="15.40" fill="#222" textLength="25.50" lengthAdjust="spacing">500</text>
<text x="709.50" y="1874.50" font-size="15.40" fill="#222" textLength="25.50" lengthAdjust="spacing">400</text>
<text x="709.50" y="1940.10" font-size="15.40" fill="#222" textLength="25.50" lengthAdjust="spacing">300</text>
<text x="709.50" y="2006.00" font-size="15.40" fill="#222" textLength="25.50" lengthAdjust="spacing">200</text>
<text x="709.50" y="2071.10" font-size="15.40" fill="#222" textLength="25.50" lengthAdjust="spacing">100</text>
<text x="740.90" y="2146.80" font-size="15.40" fill="#222" text-anchor="middle">0</text>
<text x="827.50" y="2146.80" font-size="15.40" fill="#222" text-anchor="middle">10</text>
<text x="913.10" y="2146.80" font-size="15.40" fill="#222" text-anchor="middle">20</text>
<text x="999.30" y="2146.80" font-size="15.40" fill="#222" text-anchor="middle">30</text>
<text x="1085.40" y="2146.80" font-size="15.40" fill="#222" text-anchor="middle">40</text>
<text x="1171.50" y="2146.80" font-size="15.40" fill="#222" text-anchor="middle">50</text>
<text x="960.60" y="2196.50" font-size="21.50" fill="#222" textLength="104.00" lengthAdjust="spacing" text-anchor="middle">Voltage(V)</text>
<text x="696.30" y="1973.00" font-size="21.50" fill="#222" textLength="95.00" lengthAdjust="spacing" text-anchor="middle" transform="rotate(-90 696.30 1973.00)">Power(W)</text>
<text x="1280.50" y="712.00" font-size="13.30" fill="#111">30</text>
<text x="1466.80" y="709.80" font-size="13.30" fill="#111" text-anchor="middle">1134</text>
<line x1="1271.50" y1="715.30" x2="1323.70" y2="715.30" stroke="#1a1a1a" stroke-width="1.00"/>
<line x1="1329.30" y1="715.30" x2="1631.50" y2="715.30" stroke="#1a1a1a" stroke-width="1.00"/>
<line x1="1329.30" y1="713.00" x2="1329.30" y2="737.00" stroke="#1a1a1a" stroke-width="1.00"/>
<line x1="1631.50" y1="713.00" x2="1631.50" y2="737.00" stroke="#1a1a1a" stroke-width="1.00"/>
<path d="M1329.3 715.3 l6 -1.2 v2.4z M1631.5 715.3 l-6 -1.2 v2.4z" fill="#1a1a1a"/>
<rect x="1273.70" y="715.30" width="7.30" height="481.00" fill="#f7f7f7" stroke="#1a1a1a" stroke-width="0.90"/>
<line x1="1273.70" y1="736.00" x2="1281.00" y2="736.00" stroke="#1a1a1a" stroke-width="0.90"/>
<line x1="1631.50" y1="736.00" x2="1646.00" y2="736.00" stroke="#1a1a1a" stroke-width="1.00"/>
<line x1="1631.50" y1="1195.00" x2="1646.00" y2="1195.00" stroke="#1a1a1a" stroke-width="1.00"/>
<line x1="1643.80" y1="736.00" x2="1643.80" y2="1195.00" stroke="#1a1a1a" stroke-width="1.00"/>
<text x="1661.50" y="970.70" font-size="13.30" fill="#111" text-anchor="middle" transform="rotate(-90 1661.50 970.70)">1722</text>
<rect x="1329.30" y="735.50" width="302.20" height="459.80" fill="#f6f6f6" stroke="none" stroke-width="1.00"/>
<g stroke="#1a1a1a" stroke-width="1">
<line x1="1336.50" y1="741.60" x2="1336.50" y2="1190.60"/>
<line x1="1340.50" y1="741.60" x2="1340.50" y2="1190.60"/>
<line x1="1345.50" y1="741.60" x2="1345.50" y2="1190.60"/>
<line x1="1349.50" y1="741.60" x2="1349.50" y2="1190.60"/>
<line x1="1353.50" y1="741.60" x2="1353.50" y2="1190.60"/>
<line x1="1358.50" y1="741.60" x2="1358.50" y2="1190.60"/>
<line x1="1362.50" y1="741.60" x2="1362.50" y2="1190.60"/>
<line x1="1367.50" y1="741.60" x2="1367.50" y2="1190.60"/>
<line x1="1371.50" y1="741.60" x2="1371.50" y2="1190.60"/>
<line x1="1376.50" y1="741.60" x2="1376.50" y2="1190.60"/>
<line x1="1380.50" y1="741.60" x2="1380.50" y2="1190.60"/>
<line x1="1385.50" y1="741.60" x2="1385.50" y2="1190.60"/>
<line x1="1389.50" y1="741.60" x2="1389.50" y2="1190.60"/>
<line x1="1394.50" y1="741.60" x2="1394.50" y2="1190.60"/>
<line x1="1398.50" y1="741.60" x2="1398.50" y2="1190.60"/>
<line x1="1402.50" y1="741.60" x2="1402.50" y2="1190.60"/>
<line x1="1407.50" y1="741.60" x2="1407.50" y2="1190.60"/>
<line x1="1411.50" y1="741.60" x2="1411.50" y2="1190.60"/>
<line x1="1416.50" y1="741.60" x2="1416.50" y2="1190.60"/>
<line x1="1420.50" y1="741.60" x2="1420.50" y2="1190.60"/>
<line x1="1425.50" y1="741.60" x2="1425.50" y2="1190.60"/>
<line x1="1429.50" y1="741.60" x2="1429.50" y2="1190.60"/>
<line x1="1434.50" y1="741.60" x2="1434.50" y2="1190.60"/>
<line x1="1438.50" y1="741.60" x2="1438.50" y2="1190.60"/>
<line x1="1443.50" y1="741.60" x2="1443.50" y2="1190.60"/>
<line x1="1447.50" y1="741.60" x2="1447.50" y2="1190.60"/>
<line x1="1451.50" y1="741.60" x2="1451.50" y2="1190.60"/>
<line x1="1456.50" y1="741.60" x2="1456.50" y2="1190.60"/>
<line x1="1460.50" y1="741.60" x2="1460.50" y2="1190.60"/>
<line x1="1465.50" y1="741.60" x2="1465.50" y2="1190.60"/>
<line x1="1469.50" y1="741.60" x2="1469.50" y2="1190.60"/>
<line x1="1474.50" y1="741.60" x2="1474.50" y2="1190.60"/>
<line x1="1478.50" y1="741.60" x2="1478.50" y2="1190.60"/>
<line x1="1483.50" y1="741.60" x2="1483.50" y2="1190.60"/>
<line x1="1487.50" y1="741.60" x2="1487.50" y2="1190.60"/>
<line x1="1492.50" y1="741.60" x2="1492.50" y2="1190.60"/>
<line x1="1496.50" y1="741.60" x2="1496.50" y2="1190.60"/>
<line x1="1500.50" y1="741.60" x2="1500.50" y2="1190.60"/>
<line x1="1505.50" y1="741.60" x2="1505.50" y2="1190.60"/>
<line x1="1509.50" y1="741.60" x2="1509.50" y2="1190.60"/>
<line x1="1514.50" y1="741.60" x2="1514.50" y2="1190.60"/>
<line x1="1518.50" y1="741.60" x2="1518.50" y2="1190.60"/>
<line x1="1523.50" y1="741.60" x2="1523.50" y2="1190.60"/>
<line x1="1527.50" y1="741.60" x2="1527.50" y2="1190.60"/>
<line x1="1532.50" y1="741.60" x2="1532.50" y2="1190.60"/>
<line x1="1536.50" y1="741.60" x2="1536.50" y2="1190.60"/>
<line x1="1541.50" y1="741.60" x2="1541.50" y2="1190.60"/>
<line x1="1545.50" y1="741.60" x2="1545.50" y2="1190.60"/>
<line x1="1549.50" y1="741.60" x2="1549.50" y2="1190.60"/>
<line x1="1554.50" y1="741.60" x2="1554.50" y2="1190.60"/>
<line x1="1558.50" y1="741.60" x2="1558.50" y2="1190.60"/>
<line x1="1563.50" y1="741.60" x2="1563.50" y2="1190.60"/>
<line x1="1567.50" y1="741.60" x2="1567.50" y2="1190.60"/>
<line x1="1572.50" y1="741.60" x2="1572.50" y2="1190.60"/>
<line x1="1576.50" y1="741.60" x2="1576.50" y2="1190.60"/>
<line x1="1581.50" y1="741.60" x2="1581.50" y2="1190.60"/>
<line x1="1585.50" y1="741.60" x2="1585.50" y2="1190.60"/>
<line x1="1590.50" y1="741.60" x2="1590.50" y2="1190.60"/>
<line x1="1594.50" y1="741.60" x2="1594.50" y2="1190.60"/>
<line x1="1598.50" y1="741.60" x2="1598.50" y2="1190.60"/>
<line x1="1603.50" y1="741.60" x2="1603.50" y2="1190.60"/>
<line x1="1607.50" y1="741.60" x2="1607.50" y2="1190.60"/>
<line x1="1612.50" y1="741.60" x2="1612.50" y2="1190.60"/>
<line x1="1616.50" y1="741.60" x2="1616.50" y2="1190.60"/>
<line x1="1621.50" y1="741.60" x2="1621.50" y2="1190.60"/>
<line x1="1625.50" y1="741.60" x2="1625.50" y2="1190.60"/>
</g>
<g stroke="#1a1a1a">
<line x1="1333.20" y1="741.60" x2="1627.20" y2="741.60" stroke-width="1.90"/>
<line x1="1333.20" y1="766.54" x2="1627.20" y2="766.54" stroke-width="1.90"/>
<line x1="1333.20" y1="791.49" x2="1627.20" y2="791.49" stroke-width="1.90"/>
<line x1="1333.20" y1="816.43" x2="1627.20" y2="816.43" stroke-width="1.90"/>
<line x1="1333.20" y1="841.38" x2="1627.20" y2="841.38" stroke-width="1.90"/>
<line x1="1333.20" y1="866.32" x2="1627.20" y2="866.32" stroke-width="1.90"/>
<line x1="1333.20" y1="891.27" x2="1627.20" y2="891.27" stroke-width="1.90"/>
<line x1="1333.20" y1="916.21" x2="1627.20" y2="916.21" stroke-width="1.90"/>
<line x1="1333.20" y1="941.16" x2="1627.20" y2="941.16" stroke-width="1.90"/>
<line x1="1333.20" y1="964.80" x2="1627.20" y2="964.80" stroke-width="1.2"/>
<line x1="1333.20" y1="967.40" x2="1627.20" y2="967.40" stroke-width="1.2"/>
<line x1="1333.20" y1="966.10" x2="1627.20" y2="966.10" stroke="#f6f6f6" stroke-width="1.3"/>
<line x1="1333.20" y1="991.04" x2="1627.20" y2="991.04" stroke-width="1.90"/>
<line x1="1333.20" y1="1015.99" x2="1627.20" y2="1015.99" stroke-width="1.90"/>
<line x1="1333.20" y1="1040.93" x2="1627.20" y2="1040.93" stroke-width="1.90"/>
<line x1="1333.20" y1="1065.88" x2="1627.20" y2="1065.88" stroke-width="1.90"/>
<line x1="1333.20" y1="1090.82" x2="1627.20" y2="1090.82" stroke-width="1.90"/>
<line x1="1333.20" y1="1115.77" x2="1627.20" y2="1115.77" stroke-width="1.90"/>
<line x1="1333.20" y1="1140.71" x2="1627.20" y2="1140.71" stroke-width="1.90"/>
<line x1="1333.20" y1="1165.66" x2="1627.20" y2="1165.66" stroke-width="1.90"/>
<line x1="1333.20" y1="1190.60" x2="1627.20" y2="1190.60" stroke-width="1.90"/>
<line x1="1333.20" y1="741.60" x2="1333.20" y2="1190.60" stroke-width="1.00"/>
<line x1="1382.20" y1="741.60" x2="1382.20" y2="1190.60" stroke-width="1.30"/>
<line x1="1431.20" y1="741.60" x2="1431.20" y2="1190.60" stroke-width="2.20"/>
<line x1="1480.20" y1="741.60" x2="1480.20" y2="1190.60" stroke-width="2.00"/>
<line x1="1529.20" y1="741.60" x2="1529.20" y2="1190.60" stroke-width="2.00"/>
<line x1="1578.20" y1="741.60" x2="1578.20" y2="1190.60" stroke-width="1.80"/>
<line x1="1627.20" y1="741.60" x2="1627.20" y2="1190.60" stroke-width="1.00"/>
<line x1="1509.50" y1="741.60" x2="1509.50" y2="1190.60" stroke-width="1.7"/>
<line x1="1522.00" y1="741.60" x2="1522.00" y2="1190.60" stroke-width="1.7"/>
<line x1="1549.20" y1="741.60" x2="1549.20" y2="1190.60" stroke-width="1.7"/>
</g>
<rect x="1329.80" y="736.00" width="301.20" height="458.80" fill="none" stroke="#555" stroke-width="1.00"/>
<rect x="1330.30" y="736.90" width="300.20" height="4.6" fill="#1a1a1a"/>
<rect x="1329.70" y="736.90" width="2.3" height="457.40" fill="#1a1a1a"/>
<rect x="1628.80" y="736.90" width="2.3" height="457.40" fill="#1a1a1a"/>
<rect x="1330.30" y="1192.70" width="300.20" height="1.8" fill="#1a1a1a"/>
<rect x="1333.00" y="1191.40" width="294.80" height="1.3" fill="#8a8a8a"/>
<text x="1455.20" y="1460.60" font-size="13.30" fill="#111" text-anchor="middle">1134</text>
<line x1="1308.50" y1="1461.60" x2="1600.40" y2="1461.60" stroke="#1a1a1a" stroke-width="1.00"/>
<line x1="1308.50" y1="1458.50" x2="1308.50" y2="1476.50" stroke="#1a1a1a" stroke-width="1.00"/>
<line x1="1600.40" y1="1458.50" x2="1600.40" y2="1476.50" stroke="#1a1a1a" stroke-width="1.00"/>
<path d="M1308.50 1461.6 l7 -1.2 v2.4z M1600.40 1461.6 l-7 -1.2 v2.4z" fill="#1a1a1a"/>
<rect x="1308.50" y="1476.50" width="291.90" height="438.70" fill="#f4f4f4" stroke="#1a1a1a" stroke-width="1.10"/>
<path d="M1308.50 1476.50 L1311.50 1479.50 L1313.30 1482.50 Q1315.80 1485.50 1315.80 1492.50 L1315.80 1899.20 Q1315.80 1906.20 1313.30 1909.20 L1308.50 1915.20" fill="none" stroke="#1a1a1a" stroke-width="1"/>
<path d="M1600.40 1476.50 L1597.40 1479.50 L1593.70 1482.50 Q1591.20 1485.50 1591.20 1492.50 L1591.20 1899.20 Q1591.20 1906.20 1593.70 1909.20 L1600.40 1915.20" fill="none" stroke="#1a1a1a" stroke-width="1"/>
<line x1="1311.50" y1="1481.10" x2="1597.40" y2="1481.10" stroke="#1a1a1a" stroke-width="0.90"/>
<line x1="1311.50" y1="1910.60" x2="1597.40" y2="1910.60" stroke="#1a1a1a" stroke-width="0.90"/>
<line x1="1315.60" y1="1484.50" x2="1315.60" y2="1907.20" stroke="#777" stroke-width="1.60"/>
<line x1="1591.40" y1="1484.50" x2="1591.40" y2="1907.20" stroke="#777" stroke-width="1.60"/>
<rect x="1320.50" y="1477.70" width="4.60" height="2.00" fill="none" stroke="#1a1a1a" stroke-width="0.80"/>
<rect x="1320.50" y="1912.00" width="4.60" height="2.00" fill="none" stroke="#1a1a1a" stroke-width="0.80"/>
<rect x="1583.00" y="1477.70" width="4.60" height="2.00" fill="none" stroke="#1a1a1a" stroke-width="0.80"/>
<rect x="1583.00" y="1912.00" width="4.60" height="2.00" fill="none" stroke="#1a1a1a" stroke-width="0.80"/>
<rect x="1309.30" y="1488.50" width="2.00" height="4.20" fill="none" stroke="#1a1a1a" stroke-width="0.80"/>
<rect x="1597.20" y="1488.50" width="2.00" height="4.20" fill="none" stroke="#1a1a1a" stroke-width="0.80"/>
<rect x="1309.30" y="1899.20" width="2.00" height="4.20" fill="none" stroke="#1a1a1a" stroke-width="0.80"/>
<rect x="1597.20" y="1899.20" width="2.00" height="4.20" fill="none" stroke="#1a1a1a" stroke-width="0.80"/>
<g fill="none" stroke="#1a1a1a" stroke-width="1">
<rect x="1316.5" y="1483.5" width="44.0" height="22.0" rx="2.6"/>
<rect x="1362.5" y="1483.5" width="44.0" height="22.0" rx="2.6"/>
<rect x="1408.5" y="1483.5" width="45.0" height="22.0" rx="2.6"/>
<rect x="1455.5" y="1483.5" width="44.0" height="22.0" rx="2.6"/>
<rect x="1501.5" y="1483.5" width="45.0" height="22.0" rx="2.6"/>
<rect x="1548.5" y="1483.5" width="43.0" height="22.0" rx="2.6"/>
<rect x="1316.5" y="1506.5" width="44.0" height="21.0" rx="2.6"/>
<rect x="1362.5" y="1506.5" width="44.0" height="21.0" rx="2.6"/>
<rect x="1408.5" y="1506.5" width="45.0" height="21.0" rx="2.6"/>
<rect x="1455.5" y="1506.5" width="44.0" height="21.0" rx="2.6"/>
<rect x="1501.5" y="1506.5" width="45.0" height="21.0" rx="2.6"/>
<rect x="1548.5" y="1506.5" width="43.0" height="21.0" rx="2.6"/>
<rect x="1316.5" y="1530.5" width="44.0" height="22.0" rx="2.6"/>
<rect x="1362.5" y="1530.5" width="44.0" height="22.0" rx="2.6"/>
<rect x="1408.5" y="1530.5" width="45.0" height="22.0" rx="2.6"/>
<rect x="1455.5" y="1530.5" width="44.0" height="22.0" rx="2.6"/>
<rect x="1501.5" y="1530.5" width="45.0" height="22.0" rx="2.6"/>
<rect x="1548.5" y="1530.5" width="43.0" height="22.0" rx="2.6"/>
<rect x="1316.5" y="1553.5" width="44.0" height="21.0" rx="2.6"/>
<rect x="1362.5" y="1553.5" width="44.0" height="21.0" rx="2.6"/>
<rect x="1408.5" y="1553.5" width="45.0" height="21.0" rx="2.6"/>
<rect x="1455.5" y="1553.5" width="44.0" height="21.0" rx="2.6"/>
<rect x="1501.5" y="1553.5" width="45.0" height="21.0" rx="2.6"/>
<rect x="1548.5" y="1553.5" width="43.0" height="21.0" rx="2.6"/>
<rect x="1316.5" y="1577.5" width="44.0" height="22.0" rx="2.6"/>
<rect x="1362.5" y="1577.5" width="44.0" height="22.0" rx="2.6"/>
<rect x="1408.5" y="1577.5" width="45.0" height="22.0" rx="2.6"/>
<rect x="1455.5" y="1577.5" width="44.0" height="22.0" rx="2.6"/>
<rect x="1501.5" y="1577.5" width="45.0" height="22.0" rx="2.6"/>
<rect x="1548.5" y="1577.5" width="43.0" height="22.0" rx="2.6"/>
<rect x="1316.5" y="1600.5" width="44.0" height="21.0" rx="2.6"/>
<rect x="1362.5" y="1600.5" width="44.0" height="21.0" rx="2.6"/>
<rect x="1408.5" y="1600.5" width="45.0" height="21.0" rx="2.6"/>
<rect x="1455.5" y="1600.5" width="44.0" height="21.0" rx="2.6"/>
<rect x="1501.5" y="1600.5" width="45.0" height="21.0" rx="2.6"/>
<rect x="1548.5" y="1600.5" width="43.0" height="21.0" rx="2.6"/>
<rect x="1316.5" y="1624.5" width="44.0" height="22.0" rx="2.6"/>
<rect x="1362.5" y="1624.5" width="44.0" height="22.0" rx="2.6"/>
<rect x="1408.5" y="1624.5" width="45.0" height="22.0" rx="2.6"/>
<rect x="1455.5" y="1624.5" width="44.0" height="22.0" rx="2.6"/>
<rect x="1501.5" y="1624.5" width="45.0" height="22.0" rx="2.6"/>
<rect x="1548.5" y="1624.5" width="43.0" height="22.0" rx="2.6"/>
<rect x="1316.5" y="1647.5" width="44.0" height="21.0" rx="2.6"/>
<rect x="1362.5" y="1647.5" width="44.0" height="21.0" rx="2.6"/>
<rect x="1408.5" y="1647.5" width="45.0" height="21.0" rx="2.6"/>
<rect x="1455.5" y="1647.5" width="44.0" height="21.0" rx="2.6"/>
<rect x="1501.5" y="1647.5" width="45.0" height="21.0" rx="2.6"/>
<rect x="1548.5" y="1647.5" width="43.0" height="21.0" rx="2.6"/>
<rect x="1316.5" y="1671.5" width="44.0" height="21.0" rx="2.6"/>
<rect x="1362.5" y="1671.5" width="44.0" height="21.0" rx="2.6"/>
<rect x="1408.5" y="1671.5" width="45.0" height="21.0" rx="2.6"/>
<rect x="1455.5" y="1671.5" width="44.0" height="21.0" rx="2.6"/>
<rect x="1501.5" y="1671.5" width="45.0" height="21.0" rx="2.6"/>
<rect x="1548.5" y="1671.5" width="43.0" height="21.0" rx="2.6"/>
<rect x="1316.5" y="1698.5" width="44.0" height="21.0" rx="2.6"/>
<rect x="1362.5" y="1698.5" width="44.0" height="21.0" rx="2.6"/>
<rect x="1408.5" y="1698.5" width="45.0" height="21.0" rx="2.6"/>
<rect x="1455.5" y="1698.5" width="44.0" height="21.0" rx="2.6"/>
<rect x="1501.5" y="1698.5" width="45.0" height="21.0" rx="2.6"/>
<rect x="1548.5" y="1698.5" width="43.0" height="21.0" rx="2.6"/>
<rect x="1316.5" y="1721.5" width="44.0" height="23.0" rx="2.6"/>
<rect x="1362.5" y="1721.5" width="44.0" height="23.0" rx="2.6"/>
<rect x="1408.5" y="1721.5" width="45.0" height="23.0" rx="2.6"/>
<rect x="1455.5" y="1721.5" width="44.0" height="23.0" rx="2.6"/>
<rect x="1501.5" y="1721.5" width="45.0" height="23.0" rx="2.6"/>
<rect x="1548.5" y="1721.5" width="43.0" height="23.0" rx="2.6"/>
<rect x="1316.5" y="1745.5" width="44.0" height="21.0" rx="2.6"/>
<rect x="1362.5" y="1745.5" width="44.0" height="21.0" rx="2.6"/>
<rect x="1408.5" y="1745.5" width="45.0" height="21.0" rx="2.6"/>
<rect x="1455.5" y="1745.5" width="44.0" height="21.0" rx="2.6"/>
<rect x="1501.5" y="1745.5" width="45.0" height="21.0" rx="2.6"/>
<rect x="1548.5" y="1745.5" width="43.0" height="21.0" rx="2.6"/>
<rect x="1316.5" y="1768.5" width="44.0" height="21.0" rx="2.6"/>
<rect x="1362.5" y="1768.5" width="44.0" height="21.0" rx="2.6"/>
<rect x="1408.5" y="1768.5" width="45.0" height="21.0" rx="2.6"/>
<rect x="1455.5" y="1768.5" width="44.0" height="21.0" rx="2.6"/>
<rect x="1501.5" y="1768.5" width="45.0" height="21.0" rx="2.6"/>
<rect x="1548.5" y="1768.5" width="43.0" height="21.0" rx="2.6"/>
<rect x="1316.5" y="1792.5" width="44.0" height="21.0" rx="2.6"/>
<rect x="1362.5" y="1792.5" width="44.0" height="21.0" rx="2.6"/>
<rect x="1408.5" y="1792.5" width="45.0" height="21.0" rx="2.6"/>
<rect x="1455.5" y="1792.5" width="44.0" height="21.0" rx="2.6"/>
<rect x="1501.5" y="1792.5" width="45.0" height="21.0" rx="2.6"/>
<rect x="1548.5" y="1792.5" width="43.0" height="21.0" rx="2.6"/>
<rect x="1316.5" y="1816.5" width="44.0" height="22.0" rx="2.6"/>
<rect x="1362.5" y="1816.5" width="44.0" height="22.0" rx="2.6"/>
<rect x="1408.5" y="1816.5" width="45.0" height="22.0" rx="2.6"/>
<rect x="1455.5" y="1816.5" width="44.0" height="22.0" rx="2.6"/>
<rect x="1501.5" y="1816.5" width="45.0" height="22.0" rx="2.6"/>
<rect x="1548.5" y="1816.5" width="43.0" height="22.0" rx="2.6"/>
<rect x="1316.5" y="1839.5" width="44.0" height="21.0" rx="2.6"/>
<rect x="1362.5" y="1839.5" width="44.0" height="21.0" rx="2.6"/>
<rect x="1408.5" y="1839.5" width="45.0" height="21.0" rx="2.6"/>
<rect x="1455.5" y="1839.5" width="44.0" height="21.0" rx="2.6"/>
<rect x="1501.5" y="1839.5" width="45.0" height="21.0" rx="2.6"/>
<rect x="1548.5" y="1839.5" width="43.0" height="21.0" rx="2.6"/>
<rect x="1316.5" y="1863.5" width="44.0" height="22.0" rx="2.6"/>
<rect x="1362.5" y="1863.5" width="44.0" height="22.0" rx="2.6"/>
<rect x="1408.5" y="1863.5" width="45.0" height="22.0" rx="2.6"/>
<rect x="1455.5" y="1863.5" width="44.0" height="22.0" rx="2.6"/>
<rect x="1501.5" y="1863.5" width="45.0" height="22.0" rx="2.6"/>
<rect x="1548.5" y="1863.5" width="43.0" height="22.0" rx="2.6"/>
<rect x="1316.5" y="1886.5" width="44.0" height="21.0" rx="2.6"/>
<rect x="1362.5" y="1886.5" width="44.0" height="21.0" rx="2.6"/>
<rect x="1408.5" y="1886.5" width="45.0" height="21.0" rx="2.6"/>
<rect x="1455.5" y="1886.5" width="44.0" height="21.0" rx="2.6"/>
<rect x="1501.5" y="1886.5" width="45.0" height="21.0" rx="2.6"/>
<rect x="1548.5" y="1886.5" width="43.0" height="21.0" rx="2.6"/>
</g>
<line x1="1315.80" y1="1693.50" x2="1591.20" y2="1693.50" stroke="#1a1a1a" stroke-width="1.00"/>
<line x1="1315.80" y1="1698.50" x2="1591.20" y2="1698.50" stroke="#1a1a1a" stroke-width="1.00"/>
<rect x="1355.40" y="1691.20" width="23.10" height="8.80" fill="#1a1a1a" stroke="none" stroke-width="1.00" rx="2.00"/>
<rect x="1445.00" y="1690.30" width="22.70" height="9.10" fill="#1a1a1a" stroke="none" stroke-width="1.00" rx="2.00"/>
<rect x="1528.30" y="1692.00" width="23.10" height="8.60" fill="#1a1a1a" stroke="none" stroke-width="1.00" rx="2.00"/>
<rect x="1481.30" y="1693.90" width="14.30" height="3.70" fill="#fff" stroke="#1a1a1a" stroke-width="0.90"/>
<path d="M1355.4 1695.5 C1340 1696 1330 1700 1325.5 1708 C1323.5 1712 1323.2 1716 1323.2 1722" fill="none" stroke="#1a1a1a" stroke-width="2.4"/>
<circle cx="1337.2" cy="1710.4" r="9.6" fill="none" stroke="#1a1a1a" stroke-width="2"/>
<rect x="1320.20" y="1714.00" width="5.80" height="18.00" fill="#1a1a1a" stroke="none" stroke-width="1.00"/>
<path d="M1551.4 1696 C1566 1696.5 1577 1701 1581.5 1709 C1583.8 1713 1584.6 1717 1584.8 1722" fill="none" stroke="#1a1a1a" stroke-width="2.4"/>
<circle cx="1569.6" cy="1711.2" r="9.6" fill="none" stroke="#1a1a1a" stroke-width="2"/>
<rect x="1582.40" y="1714.00" width="5.80" height="18.50" fill="#1a1a1a" stroke="none" stroke-width="1.00"/>
<circle cx="1312.30" cy="1526.80" r="1.5" fill="#fff" stroke="#1a1a1a" stroke-width="0.8"/>
<circle cx="1594.30" cy="1526.80" r="1.5" fill="#fff" stroke="#1a1a1a" stroke-width="0.8"/>
<circle cx="1312.30" cy="1578.50" r="1.5" fill="#fff" stroke="#1a1a1a" stroke-width="0.8"/>
<circle cx="1594.30" cy="1578.50" r="1.5" fill="#fff" stroke="#1a1a1a" stroke-width="0.8"/>
<circle cx="1312.30" cy="1812.20" r="1.5" fill="#fff" stroke="#1a1a1a" stroke-width="0.8"/>
<circle cx="1594.30" cy="1812.20" r="1.5" fill="#fff" stroke="#1a1a1a" stroke-width="0.8"/>
<circle cx="1312.30" cy="1865.30" r="1.5" fill="#fff" stroke="#1a1a1a" stroke-width="0.8"/>
<circle cx="1594.30" cy="1865.30" r="1.5" fill="#fff" stroke="#1a1a1a" stroke-width="0.8"/>
<rect x="1311.40" y="1644.00" width="1.80" height="3.00" fill="none" stroke="#1a1a1a" stroke-width="0.80" rx="0.90"/>
<rect x="1593.70" y="1644.00" width="1.80" height="3.00" fill="none" stroke="#1a1a1a" stroke-width="0.80" rx="0.90"/>
<rect x="1311.40" y="1744.30" width="1.80" height="3.00" fill="none" stroke="#1a1a1a" stroke-width="0.80" rx="0.90"/>
<rect x="1593.70" y="1744.30" width="1.80" height="3.00" fill="none" stroke="#1a1a1a" stroke-width="0.80" rx="0.90"/>
<circle cx="1312.30" cy="1503.20" r="0.9" fill="#555"/>
<circle cx="1594.30" cy="1503.20" r="0.9" fill="#555"/>
<circle cx="1312.30" cy="1888.50" r="0.9" fill="#555"/>
<circle cx="1594.30" cy="1888.50" r="0.9" fill="#555"/>
<line x1="1260.90" y1="1476.50" x2="1260.90" y2="1915.20" stroke="#1a1a1a" stroke-width="1.00"/>
<line x1="1260.90" y1="1476.50" x2="1311.00" y2="1476.50" stroke="#1a1a1a" stroke-width="1.00"/>
<line x1="1260.90" y1="1915.20" x2="1311.00" y2="1915.20" stroke="#1a1a1a" stroke-width="1.00"/>
<text x="1256.80" y="1693.60" font-size="13.30" fill="#111" text-anchor="middle" transform="rotate(-90 1256.80 1693.60)">1722</text>
<line x1="1274.50" y1="1526.80" x2="1274.50" y2="1865.30" stroke="#1a1a1a" stroke-width="1.00"/>
<line x1="1274.50" y1="1526.80" x2="1311.00" y2="1526.80" stroke="#1a1a1a" stroke-width="1.00"/>
<line x1="1274.50" y1="1865.30" x2="1311.00" y2="1865.30" stroke="#1a1a1a" stroke-width="1.00"/>
<text x="1273.50" y="1693.60" font-size="13.30" fill="#111" text-anchor="middle" transform="rotate(-90 1273.50 1693.60)">1400</text>
<line x1="1288.40" y1="1578.50" x2="1288.40" y2="1812.20" stroke="#1a1a1a" stroke-width="1.00"/>
<line x1="1288.40" y1="1578.50" x2="1311.00" y2="1578.50" stroke="#1a1a1a" stroke-width="1.00"/>
<line x1="1288.40" y1="1812.20" x2="1311.00" y2="1812.20" stroke="#1a1a1a" stroke-width="1.00"/>
<text x="1287.20" y="1693.60" font-size="13.30" fill="#111" text-anchor="middle" transform="rotate(-90 1287.20 1693.60)">990</text>
<line x1="1302.20" y1="1645.50" x2="1302.20" y2="1745.80" stroke="#1a1a1a" stroke-width="1.00"/>
<line x1="1302.20" y1="1645.50" x2="1311.00" y2="1645.50" stroke="#1a1a1a" stroke-width="1.00"/>
<line x1="1302.20" y1="1745.80" x2="1311.00" y2="1745.80" stroke="#1a1a1a" stroke-width="1.00"/>
<text x="1301.80" y="1693.60" font-size="13.30" fill="#111" text-anchor="middle" transform="rotate(-90 1301.80 1693.60)">400</text>
<text x="1606.10" y="1714.90" font-size="8.60" fill="#111">4-7*10</text>
<text x="1606.10" y="1724.90" font-size="8.60" fill="#111">(Mounting holes)</text>
<line x1="1603.50" y1="1731.10" x2="1673.60" y2="1731.10" stroke="#1a1a1a" stroke-width="1.00"/>
<line x1="1603.50" y1="1731.10" x2="1594.90" y2="1745.00" stroke="#1a1a1a" stroke-width="1.00"/>
<text x="1606.10" y="1781.10" font-size="8.60" fill="#111">8-9*14</text>
<text x="1606.10" y="1791.50" font-size="8.60" fill="#111">(Mounting holes)</text>
<line x1="1603.50" y1="1800.40" x2="1673.60" y2="1800.40" stroke="#1a1a1a" stroke-width="1.00"/>
<line x1="1603.50" y1="1800.40" x2="1594.30" y2="1811.70" stroke="#1a1a1a" stroke-width="1.00"/>
<text x="1606.10" y="1859.80" font-size="8.60" fill="#111">4-R2.1</text>
<text x="1606.10" y="1870.50" font-size="8.60" fill="#111">(Grounding holes)</text>
<line x1="1603.50" y1="1875.70" x2="1673.60" y2="1875.70" stroke="#1a1a1a" stroke-width="1.00"/>
<line x1="1603.50" y1="1875.70" x2="1594.90" y2="1888.30" stroke="#1a1a1a" stroke-width="1.00"/>
<text x="1606.10" y="1887.50" font-size="8.60" fill="#111">Draining holes</text>
<line x1="1603.50" y1="1890.60" x2="1673.60" y2="1890.60" stroke="#1a1a1a" stroke-width="1.00"/>
<line x1="1603.50" y1="1890.60" x2="1597.50" y2="1900.00" stroke="#1a1a1a" stroke-width="1.00"/>
<path d="M1348.40 1961.34 L1348.40 2019.02" fill="none" stroke="#1a1a1a" stroke-width="1.00" stroke-linejoin="round"/>
<path d="M1346.82 1963.31 L1365.19 1963.31" fill="none" stroke="#1a1a1a" stroke-width="1.00" stroke-linejoin="round"/>
<path d="M1346.82 2017.64 L1356.30 2017.64" fill="none" stroke="#1a1a1a" stroke-width="1.00" stroke-linejoin="round"/>
<path d="M1355.31 2026.92 L1407.66 2026.92" fill="none" stroke="#1a1a1a" stroke-width="1.00" stroke-linejoin="round"/>
<path d="M1355.31 2018.03 L1355.31 2028.50" fill="none" stroke="#1a1a1a" stroke-width="1.00" stroke-linejoin="round"/>
<path d="M1407.66 2018.03 L1407.66 2028.50" fill="none" stroke="#1a1a1a" stroke-width="1.00" stroke-linejoin="round"/>
<path d="M1355.31 1963.31 L1355.31 2018.03 L1407.66 2018.03 Q1408.26 2016.25 1407.66 2014.67 Q1407.66 2014.67 1407.66 2014.67 L1374.67 2014.67 L1374.67 1979.51 L1358.87 1979.51 L1358.87 1968.05 L1366.18 1967.26 L1371.12 1968.64 L1374.08 1967.26 L1372.11 1964.10 L1365.19 1963.31 Z" fill="#f8f8f8" stroke="#1a1a1a" stroke-width="0.9" stroke-linejoin="round"/>
<rect x="1357.29" y="1981.88" width="14.82" height="33.78" fill="#f8f8f8" stroke="#1a1a1a" stroke-width="0.90"/>
<text x="1340.80" y="1997.30" font-size="14.00" fill="#111" text-anchor="middle" transform="rotate(-90 1340.80 1997.30)">30</text>
<text x="1381.00" y="2042.70" font-size="14.00" fill="#111" text-anchor="middle">28.5</text>
<text x="1381.00" y="2070.30" font-size="14.00" fill="#111" text-anchor="middle">Long frame</text>
<path d="M1511.38 1960.15 L1511.38 2020.60" fill="none" stroke="#1a1a1a" stroke-width="1.00" stroke-linejoin="round"/>
<path d="M1509.80 1962.13 L1527.18 1962.13" fill="none" stroke="#1a1a1a" stroke-width="1.00" stroke-linejoin="round"/>
<path d="M1509.80 2019.61 L1519.68 2019.61" fill="none" stroke="#1a1a1a" stroke-width="1.00" stroke-linejoin="round"/>
<path d="M1519.28 2026.92 L1540.62 2026.92" fill="none" stroke="#1a1a1a" stroke-width="1.00" stroke-linejoin="round"/>
<path d="M1519.28 2020.01 L1519.28 2028.50" fill="none" stroke="#1a1a1a" stroke-width="1.00" stroke-linejoin="round"/>
<path d="M1540.62 2020.01 L1540.62 2028.50" fill="none" stroke="#1a1a1a" stroke-width="1.00" stroke-linejoin="round"/>
<path d="M1518.89 1962.13 L1518.89 2020.01 L1540.62 2020.01 L1540.62 2017.04 L1538.05 2017.04 L1538.05 1979.51 L1522.24 1979.51 L1522.24 1967.66 L1529.16 1966.87 L1534.69 1968.64 L1537.65 1966.67 L1529.16 1962.13 Z" fill="#f8f8f8" stroke="#1a1a1a" stroke-width="0.9" stroke-linejoin="round"/>
<rect x="1520.47" y="1982.47" width="15.01" height="34.18" fill="#f8f8f8" stroke="#1a1a1a" stroke-width="0.90"/>
<text x="1503.70" y="1997.30" font-size="14.00" fill="#111" text-anchor="middle" transform="rotate(-90 1503.70 1997.30)">30</text>
<text x="1530.10" y="2042.70" font-size="14.00" fill="#111" text-anchor="middle">11.6</text>
<text x="1537.00" y="2070.30" font-size="14.00" fill="#111" text-anchor="middle">Short frame</text>
</svg>
</body></html>
